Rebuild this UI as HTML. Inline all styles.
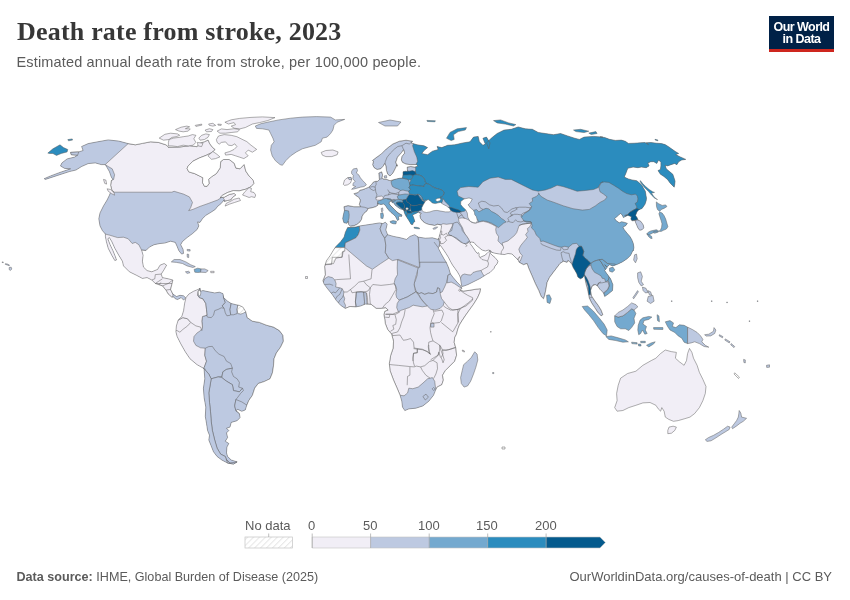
<!DOCTYPE html>
<html lang="en">
<head>
<meta charset="utf-8">
<title>Death rate from stroke, 2023</title>
<style>
html,body{margin:0;padding:0;background:#fff;}
body{width:850px;height:600px;position:relative;overflow:hidden;font-family:"Liberation Sans",sans-serif;}
#title{position:absolute;left:17px;top:15.4px;font-family:"Liberation Serif",serif;font-weight:bold;font-size:26px;line-height:34px;color:#373737;white-space:nowrap;letter-spacing:0.2px;}
#subtitle{position:absolute;left:16.5px;top:51.7px;font-size:14.5px;line-height:20px;color:#5b5b5b;white-space:nowrap;letter-spacing:0.16px;}
#logo{position:absolute;left:769px;top:16px;width:65px;height:36px;background:#002147;border-bottom:0;box-sizing:border-box;color:#fff;text-align:center;font-weight:bold;font-size:12.5px;line-height:12px;letter-spacing:-0.55px;}
#logo .bar{position:absolute;left:0;right:0;bottom:0;height:3px;background:#ce261e;}
#logo span{display:block;}
#map{position:absolute;left:0;top:0;width:850px;height:600px;}
#map path{stroke:#5e5e5e;stroke-width:0.5;stroke-linejoin:round;}
.lg{position:absolute;font-size:13px;color:#5b5b5b;line-height:14px;white-space:nowrap;}
#src{position:absolute;left:16.5px;top:568.8px;font-size:12.6px;line-height:16px;color:#5b5b5b;white-space:nowrap;}
#src b{font-weight:bold;}
#url{position:absolute;right:18px;top:569px;font-size:13px;line-height:16px;color:#5b5b5b;white-space:nowrap;}
</style>
</head>
<body>
<div id="title">Death rate from stroke, 2023</div>
<div id="subtitle">Estimated annual death rate from stroke, per 100,000 people.</div>
<div id="logo"><span style="margin-top:4.8px">Our World</span><span>in Data</span><div class="bar"></div></div>
<svg id="map" width="850" height="600" viewBox="0 0 850 600">
<defs>
<pattern id="hatch" patternUnits="userSpaceOnUse" width="4.2" height="4.2" patternTransform="rotate(45)">
<rect width="4.2" height="4.2" fill="#fff"/><line x1="0" y1="0" x2="0" y2="4.2" stroke="#e6e6e6" stroke-width="2"/>
</pattern>
</defs>
<g id="countries">
<defs><clipPath id="c0"><path d="M128.2,143.6L135.3,144.8L142.4,143.4L150.6,141.8L158.8,142.5L165.9,144.8L168.7,147.2L168.5,147.3L179.7,147.0L189.6,145.7L197.1,146.7L199.5,143.3L204.5,141.7L208.1,140.0L209.8,143.8L212.7,147.6L215.2,149.6L211.9,152.6L206.1,155.4L199.5,157.9L192.9,161.2L188.0,166.1L187.1,168.6L188.8,171.9L194.6,173.6L199.5,176.0L202.8,177.7L202.5,182.6L204.5,186.3L207.1,186.3L209.1,183.5L208.6,179.3L211.4,176.9L216.4,173.6L220.2,167.8L220.7,161.5L223.5,159.5L229.2,159.5L234.2,163.2L235.9,168.1L240.0,168.8L244.1,164.5L245.8,171.1L249.1,176.0L253.2,180.2L254.0,183.5L251.0,186.8L245.8,189.2L239.2,190.9L233.4,190.6L227.6,192.5L222.6,195.2L220.2,197.5L224.3,197.2L229.2,194.5L234.2,193.4L235.9,195.0L232.5,197.5L230.9,200.0L227.6,200.5L224.3,201.6L224.0,200.0L221.2,203.5L217.6,206.4L215.3,209.4L210.6,212.5L205.9,215.3L202.4,218.8L200.0,222.4L197.6,221.9L198.8,225.9L197.2,229.4L192.5,233.6L187.1,237.6L182.4,241.6L180.7,244.7L183.1,249.4L183.5,253.4L181.6,254.1L178.8,250.6L176.9,245.9L175.3,242.4L170.6,241.2L164.7,243.1L160.0,243.5L154.1,244.7L149.4,247.1L145.9,250.6L141.6,250.1L143.1,255.3L142.4,261.2L143.5,267.1L147.1,270.6L151.8,271.8L157.6,269.4L160.0,265.2L164.2,263.5L166.6,265.2L163.5,270.6L161.2,274.1L162.4,277.6L168.2,278.8L172.9,280.0L171.8,284.7L170.6,289.4L172.9,294.1L176.5,296.5L180.0,295.3L183.5,295.8L185.9,298.1L183.5,300.0L181.2,297.6L177.6,299.5L175.3,298.8L173.6,296.9L171.8,297.2L168.2,294.1L165.9,290.1L162.4,285.9L158.8,284.7L155.3,283.5L151.8,280.0L147.1,277.6L142.4,278.4L136.5,275.3L129.4,271.8L123.5,265.9L122.4,261.2L118.8,255.3L114.8,248.2L111.8,241.6L109.4,237.6L107.8,238.8L110.1,244.7L112.9,250.6L115.3,256.5L116.5,260.0L114.8,260.5L111.8,255.3L108.2,248.2L106.4,241.6L105.4,236.5L105.4,234.1L102.4,230.6L100.0,225.9L98.8,218.8L100.0,212.9L103.5,205.9L107.1,200.0L109.4,195.3L110.6,192.2L114.1,192.4L111.8,190.0L110.6,185.3L111.3,180.6L112.9,179.4L111.3,177.1L109.4,171.6L107.1,167.6L105.2,164.6L101.2,164.6L95.3,162.9L88.2,163.6L81.6,166.5L76.0,170.0L69.4,171.6L57.6,175.4L45.4,179.4L44.2,178.7L50.6,175.9L60.0,172.4L70.6,168.8L64.7,168.4L60.5,166.0L61.9,162.9L67.1,158.9L74.6,157.1L77.6,155.2L71.3,154.7L70.6,152.4L78.8,151.9L83.1,150.5L81.6,146.5L88.2,143.6L97.6,141.8L108.2,139.9L118.8,141.1Z"/></clipPath>
<clipPath id="c1"><path d="M186.0,297.6L188.8,294.1L193.5,291.3L198.2,289.4L200.1,288.2L200.6,291.3L202.9,290.6L208.8,291.8L214.7,292.9L219.4,292.2L222.9,293.6L223.6,297.6L227.6,301.2L231.2,303.5L235.9,304.7L239.4,305.4L242.9,307.1L245.8,311.8L247.2,317.6L252.4,321.2L259.4,322.4L266.5,325.2L273.5,327.1L279.4,330.6L282.9,335.3L283.4,341.2L280.6,347.1L276.4,352.9L274.0,358.8L273.5,365.9L272.4,372.9L270.0,378.8L264.1,381.6L258.2,383.5L254.7,388.2L252.4,395.3L248.8,400.5L246.5,405.9L245.3,409.9L241.8,411.3L237.8,409.4L235.9,410.6L239.4,413.6L240.1,417.6L237.1,420.7L231.2,422.4L230.0,427.1L226.5,428.2L228.8,430.6L226.5,432.9L227.6,437.6L225.3,441.2L228.8,443.5L226.9,447.1L226.5,452.9L227.6,456.5L231.2,460.0L237.1,461.9L233.5,464.0L227.6,463.1L221.8,460.0L217.1,456.5L213.5,451.8L211.2,445.9L208.8,440.0L209.5,435.3L207.6,430.6L206.5,423.5L205.3,416.5L205.8,407.1L204.1,397.6L203.4,388.2L204.8,378.8L204.1,369.4L203.4,368.2L197.1,364.7L190.0,358.8L185.3,351.8L180.6,343.5L177.1,336.5L175.9,331.8L176.4,325.9L178.2,320.0L181.8,316.5L183.6,310.6L184.6,303.5Z"/></clipPath>
<clipPath id="c2"><path d="M347.6,227.6L355.9,226.9L359.4,226.0L368.8,224.6L379.4,222.9L382.9,223.6L385.3,222.2L387.2,224.1L385.8,230.0L387.6,234.7L393.5,236.4L400.6,237.8L406.5,239.4L410.0,236.4L414.7,234.7L418.2,237.1L425.3,238.2L432.4,237.8L438.2,239.4L438.6,238.2L439.7,243.2L439.1,246.3L438.4,247.8L438.3,248.2L441.3,254.0L444.6,259.8L446.2,262.2L448.7,268.0L450.4,273.8L452.8,277.1L457.0,282.1L460.3,285.4L461.9,288.2L460.3,290.3L463.6,291.1L469.3,290.3L475.9,289.2L480.6,288.7L480.1,292.0L477.6,297.7L473.5,304.3L469.3,310.1L465.2,315.9L461.9,320.9L459.4,325.0L457.8,329.1L456.5,334.1L454.7,337.6L454.2,342.4L455.9,348.2L456.6,355.3L454.7,361.2L450.0,365.9L445.3,370.6L442.5,375.3L443.4,380.0L441.8,384.7L437.1,387.1L435.4,390.6L433.5,395.3L428.8,401.2L422.9,405.9L415.9,408.2L408.8,408.9L404.8,410.6L402.5,407.1L401.8,401.2L400.1,395.3L397.1,388.2L393.5,380.0L390.0,370.6L389.3,363.5L390.7,355.3L393.1,348.2L393.5,341.2L391.6,334.1L387.6,329.4L385.3,323.5L384.8,319.4L383.9,314.7L384.8,311.2L388.1,310.0L385.8,307.9L381.1,308.4L376.1,308.4L371.2,304.4L365.3,304.1L360.6,306.0L355.9,306.9L350.0,306.5L345.3,308.4L340.6,305.3L336.4,300.6L332.4,294.7L327.6,288.8L324.1,284.1L322.9,280.6L325.3,274.7L324.6,266.5L326.5,260.6L330.0,255.9L333.5,250.0L335.9,246.5L340.6,241.8L344.1,237.1L345.3,232.4Z"/></clipPath>
<clipPath id="c3"><path d="M353.9,225.7L350.4,226.3L348.6,224.5L348.0,221.5L346.8,223.3L343.9,222.7L342.7,218.6L343.5,214.4L344.5,210.3L343.9,206.7L348.0,205.6L353.9,206.7L360.4,206.7L359.3,204.4L360.4,200.2L358.7,197.3L355.7,195.5L353.9,193.7L358.1,192.5L359.9,190.2L362.8,189.6L365.8,188.4L368.7,187.2L371.7,184.3L373.5,181.9L375.8,181.3L377.6,181.3L379.4,179.5L378.8,173.0L381.7,171.8L382.6,174.8L382.1,177.8L382.9,178.9L387.1,179.5L390.0,180.7L394.2,179.5L399.5,178.3L402.5,178.0L403.0,174.8L403.0,171.8L405.4,171.2L407.4,171.6L407.4,170.1L407.2,167.1L410.7,166.5L414.9,167.1L417.8,166.2L416.7,164.5L410.7,164.7L406.0,164.1L402.5,162.4L401.3,160.0L401.9,156.4L404.7,153.1L403.6,149.8L401.4,152.8L397.5,157.2L395.8,162.2L397.3,166.3L397.1,164.7L395.4,168.3L393.0,173.0L390.0,176.0L387.7,174.2L386.5,170.7L385.9,165.9L384.7,163.6L382.9,166.5L380.6,168.9L377.0,169.5L374.1,167.7L372.6,164.7L373.5,161.2L372.4,160.5L375.5,158.1L381.3,153.9L386.2,149.0L392.8,144.0L399.4,141.2L406.0,140.2L412.6,141.2L411.2,142.9L417.1,144.8L424.1,145.8L427.6,147.6L424.1,150.5L421.8,153.5L427.6,154.7L432.4,151.2L438.2,149.5L437.1,146.5L441.8,147.6L447.6,145.3L454.7,144.8L462.9,142.9L470.0,141.8L473.5,137.1L478.2,136.4L479.4,141.8L482.9,145.3L485.3,144.1L482.9,138.2L486.5,137.1L490.0,142.9L488.8,148.8L486.5,142.9L491.2,138.2L497.1,133.5L504.1,130.0L511.2,129.3L518.2,126.9L525.3,128.8L532.4,129.3L538.2,132.4L545.3,133.5L553.5,134.7L560.6,133.5L567.6,135.9L574.7,138.2L579.4,139.4L584.1,137.1L593.5,136.4L602.9,137.1L600.0,136.9L604.7,137.5L609.5,139.3L615.4,140.4L621.3,140.1L625.4,141.3L628.4,143.4L634.3,143.2L640.2,142.8L645.0,142.5L648.5,144.6L646.2,142.8L650.9,142.5L656.8,143.2L661.5,143.6L665.1,144.6L668.6,146.7L672.2,149.3L675.7,151.7L678.7,153.5L675.7,154.6L679.3,156.4L685.8,159.4L681.7,160.0L678.7,161.7L676.9,164.7L674.6,163.5L671.0,164.7L667.5,165.9L665.1,165.3L666.3,168.8L669.8,171.8L672.8,174.2L674.0,177.7L675.1,181.3L674.7,184.8L674.2,187.2L670.0,182.9L667.5,179.5L663.9,176.5L660.4,174.2L658.0,170.6L660.4,169.4L660.9,165.9L660.9,162.3L658.6,160.0L656.8,163.5L653.8,161.7L650.9,161.7L647.9,162.9L649.1,165.9L646.2,167.7L641.4,167.1L637.9,167.7L633.1,167.1L627.8,168.3L626.0,173.0L624.3,177.1L628.4,178.9L632.0,179.9L636.7,180.7L639.6,183.0L641.8,185.3L645.3,191.2L646.5,198.2L646.2,200.7L645.0,204.3L642.1,208.4L638.8,209.8L637.3,211.4L636.7,212.5L635.6,215.5L637.3,217.9L637.9,219.9L640.9,221.4L643.3,225.0L643.8,227.9L642.1,229.7L639.7,230.3L637.9,227.9L636.7,225.0L635.6,222.6L635.0,220.5L632.0,220.8L630.8,219.1L631.4,216.7L629.6,216.1L627.9,215.3L625.5,216.4L623.4,217.6L622.2,214.9L620.5,213.5L618.4,215.3L616.6,216.9L614.6,218.6L616.3,220.8L619.3,222.8L621.7,221.7L624.6,222.4L627.4,223.3L625.7,225.7L622.9,227.1L624.3,229.7L626.9,233.0L629.8,236.3L631.7,239.4L633.3,243.4L633.9,247.5L633.3,251.0L632.9,250.6L630.6,255.3L627.1,258.8L622.4,261.9L617.6,264.2L612.9,265.9L609.4,264.7L607.1,267.1L604.7,264.7L607.1,267.5L604.7,270.6L607.1,274.1L610.6,278.8L612.9,284.7L612.5,290.6L608.2,294.1L604.7,296.5L603.5,292.9L601.2,290.6L600.0,289.4L597.6,285.9L595.3,284.7L592.9,285.4L591.8,287.1L590.6,290.6L590.7,291.2L591.6,295.9L594.7,300.6L598.2,305.3L601.1,310.0L602.9,314.7L601.1,315.9L597.8,312.4L594.7,307.6L591.6,302.9L589.3,298.2L588.4,293.5L587.5,289.4L585.9,283.5L585.0,278.8L584.4,274.9L582.7,277.7L580.3,278.8L577.9,277.1L576.7,273.5L575.0,270.6L573.2,267.6L572.0,264.6L570.8,262.9L569.6,261.7L567.9,260.5L567.1,262.4L563.5,261.2L560.0,263.5L556.5,268.2L552.9,272.9L549.4,277.6L547.1,282.4L545.9,289.4L544.7,295.3L543.5,298.8L541.2,296.5L538.8,290.6L535.3,283.5L531.8,275.3L528.7,268.2L527.1,263.5L523.5,264.7L519.3,262.4L517.6,258.8L520.0,256.5L518.0,259.8L515.0,257.0L512.0,254.0L508.0,253.5L504.5,254.5L501.0,254.2L498.0,253.8L494.0,253.0L491.0,252.0L488.5,250.0L485.5,251.0L482.0,250.0L479.0,247.5L476.0,245.0L474.0,242.5L471.5,242.0L470.0,242.5L470.0,243.5L472.0,246.0L474.0,249.0L476.0,252.0L477.5,253.5L478.0,252.5L479.2,253.5L479.0,256.0L480.0,257.5L482.0,256.5L484.5,255.5L487.0,253.5L489.0,251.5L490.0,250.8L490.5,253.5L492.5,255.5L495.0,257.5L498.0,261.2L497.0,264.0L495.0,266.0L494.0,268.5L492.0,270.5L490.0,272.5L487.0,274.0L484.0,276.0L480.0,278.5L476.0,280.5L472.0,282.5L468.0,284.5L464.0,286.0L461.8,286.5L461.0,282.0L460.5,278.0L459.5,275.5L457.5,272.0L455.0,268.5L452.5,265.0L450.5,261.5L448.5,257.5L446.0,253.5L443.0,249.0L440.5,245.5L439.3,246.3L439.8,243.2L438.9,238.4L439.3,236.1L440.1,233.3L440.8,230.5L441.3,227.6L441.5,225.9L440.6,224.9L437.7,224.3L434.7,225.5L431.7,224.9L428.2,224.3L425.2,223.1L422.9,221.4L420.5,218.4L419.9,215.4L421.1,213.1L419.3,213.1L418.7,211.9L416.0,213.4L414.0,214.3L412.5,215.1L413.4,217.0L414.3,219.6L414.8,221.7L413.4,222.5L412.8,224.6L411.0,224.3L409.9,222.2L408.4,219.8L406.9,217.5L405.4,215.1L404.5,213.1L403.9,210.7L404.2,208.9L404.0,210.5L403.0,209.5L400.5,209.0L397.5,207.0L395.0,205.0L394.0,203.0L392.0,202.5L391.5,200.8L390.0,201.5L389.0,203.0L390.0,205.0L392.0,207.0L394.5,209.5L397.0,212.0L400.0,214.0L402.0,215.0L401.5,216.5L399.5,216.0L398.5,217.5L399.0,219.5L397.5,220.5L396.5,218.5L395.5,216.5L393.5,214.5L391.0,212.5L389.0,210.5L387.0,208.0L385.5,205.5L383.5,204.0L381.0,204.5L379.0,204.0L377.5,203.0L378.2,205.0L375.8,206.7L371.7,207.9L368.1,208.5L367.0,210.9L364.0,213.3L362.2,216.2L361.6,219.2L359.9,222.1L356.9,224.5Z"/></clipPath></defs>
<g clip-path="url(#c0)">
<path d="M128.2,143.6L135.3,144.8L142.4,143.4L150.6,141.8L158.8,142.5L165.9,144.8L168.7,147.2L168.5,147.3L179.7,147.0L189.6,145.7L197.1,146.7L199.5,143.3L204.5,141.7L208.1,140.0L209.8,143.8L212.7,147.6L215.2,149.6L211.9,152.6L206.1,155.4L199.5,157.9L192.9,161.2L188.0,166.1L187.1,168.6L188.8,171.9L194.6,173.6L199.5,176.0L202.8,177.7L202.5,182.6L204.5,186.3L207.1,186.3L209.1,183.5L208.6,179.3L211.4,176.9L216.4,173.6L220.2,167.8L220.7,161.5L223.5,159.5L229.2,159.5L234.2,163.2L235.9,168.1L240.0,168.8L244.1,164.5L245.8,171.1L249.1,176.0L253.2,180.2L254.0,183.5L251.0,186.8L245.8,189.2L239.2,190.9L233.4,190.6L227.6,192.5L222.6,195.2L220.2,197.5L224.3,197.2L229.2,194.5L234.2,193.4L235.9,195.0L232.5,197.5L230.9,200.0L227.6,200.5L224.3,201.6L224.0,200.0L221.2,203.5L217.6,206.4L215.3,209.4L210.6,212.5L205.9,215.3L202.4,218.8L200.0,222.4L197.6,221.9L198.8,225.9L197.2,229.4L192.5,233.6L187.1,237.6L182.4,241.6L180.7,244.7L183.1,249.4L183.5,253.4L181.6,254.1L178.8,250.6L176.9,245.9L175.3,242.4L170.6,241.2L164.7,243.1L160.0,243.5L154.1,244.7L149.4,247.1L145.9,250.6L141.6,250.1L143.1,255.3L142.4,261.2L143.5,267.1L147.1,270.6L151.8,271.8L157.6,269.4L160.0,265.2L164.2,263.5L166.6,265.2L163.5,270.6L161.2,274.1L162.4,277.6L168.2,278.8L172.9,280.0L171.8,284.7L170.6,289.4L172.9,294.1L176.5,296.5L180.0,295.3L183.5,295.8L185.9,298.1L183.5,300.0L181.2,297.6L177.6,299.5L175.3,298.8L173.6,296.9L171.8,297.2L168.2,294.1L165.9,290.1L162.4,285.9L158.8,284.7L155.3,283.5L151.8,280.0L147.1,277.6L142.4,278.4L136.5,275.3L129.4,271.8L123.5,265.9L122.4,261.2L118.8,255.3L114.8,248.2L111.8,241.6L109.4,237.6L107.8,238.8L110.1,244.7L112.9,250.6L115.3,256.5L116.5,260.0L114.8,260.5L111.8,255.3L108.2,248.2L106.4,241.6L105.4,236.5L105.4,234.1L102.4,230.6L100.0,225.9L98.8,218.8L100.0,212.9L103.5,205.9L107.1,200.0L109.4,195.3L110.6,192.2L114.1,192.4L111.8,190.0L110.6,185.3L111.3,180.6L112.9,179.4L111.3,177.1L109.4,171.6L107.1,167.6L105.2,164.6L101.2,164.6L95.3,162.9L88.2,163.6L81.6,166.5L76.0,170.0L69.4,171.6L57.6,175.4L45.4,179.4L44.2,178.7L50.6,175.9L60.0,172.4L70.6,168.8L64.7,168.4L60.5,166.0L61.9,162.9L67.1,158.9L74.6,157.1L77.6,155.2L71.3,154.7L70.6,152.4L78.8,151.9L83.1,150.5L81.6,146.5L88.2,143.6L97.6,141.8L108.2,139.9L118.8,141.1Z" fill="#f1eef6" stroke="none"/>
<path d="M110.6,192.2L171.8,192.2L174.1,191.3L183.5,194.1L189.4,196.9L192.5,202.4L190.6,207.8L188.7,210.6L192.9,209.4L200.0,206.4L208.2,203.5L217.6,200.0L222.4,196.9L224.5,199.8L230.6,212.9L230.6,257.6L103.5,257.6L94.1,215.3L105.9,194.1Z" fill="#bdc9e1"/>
<path d="M128.2,143.6L105.2,164.6L108.2,166.5L112.2,168.8L114.6,174.7L113.6,179.4L90.6,187.6L34.1,185.3L34.1,133.5L128.2,133.5Z" fill="#bdc9e1"/>
<path d="M105.4,234.1L110.1,235.3L117.6,237.6L123.5,237.2L128.2,238.8L132.2,243.5L135.3,242.4L138.8,244.7L141.6,250.1L150.6,250.6L174.1,260.0L174.1,283.5L138.8,283.5L98.8,257.6L101.2,234.1Z" fill="#f1eef6"/>
<path d="M172.9,294.1L173.6,290.6L188.2,292.9L188.2,302.4L172.9,302.4Z" fill="#bdc9e1"/>
<path d="M151.8,280.0L154.8,278.8L155.3,274.6L161.2,274.1" fill="none"/>
<path d="M155.3,283.5L158.8,281.2L162.4,278.8" fill="none"/>
<path d="M158.8,284.7L161.2,282.4" fill="none"/>
<path d="M162.4,285.9L168.2,283.5L172.9,280.0" fill="none"/>
<path d="M165.9,290.1L170.6,289.4" fill="none"/>
</g>
<path d="M128.2,143.6L135.3,144.8L142.4,143.4L150.6,141.8L158.8,142.5L165.9,144.8L168.7,147.2L168.5,147.3L179.7,147.0L189.6,145.7L197.1,146.7L199.5,143.3L204.5,141.7L208.1,140.0L209.8,143.8L212.7,147.6L215.2,149.6L211.9,152.6L206.1,155.4L199.5,157.9L192.9,161.2L188.0,166.1L187.1,168.6L188.8,171.9L194.6,173.6L199.5,176.0L202.8,177.7L202.5,182.6L204.5,186.3L207.1,186.3L209.1,183.5L208.6,179.3L211.4,176.9L216.4,173.6L220.2,167.8L220.7,161.5L223.5,159.5L229.2,159.5L234.2,163.2L235.9,168.1L240.0,168.8L244.1,164.5L245.8,171.1L249.1,176.0L253.2,180.2L254.0,183.5L251.0,186.8L245.8,189.2L239.2,190.9L233.4,190.6L227.6,192.5L222.6,195.2L220.2,197.5L224.3,197.2L229.2,194.5L234.2,193.4L235.9,195.0L232.5,197.5L230.9,200.0L227.6,200.5L224.3,201.6L224.0,200.0L221.2,203.5L217.6,206.4L215.3,209.4L210.6,212.5L205.9,215.3L202.4,218.8L200.0,222.4L197.6,221.9L198.8,225.9L197.2,229.4L192.5,233.6L187.1,237.6L182.4,241.6L180.7,244.7L183.1,249.4L183.5,253.4L181.6,254.1L178.8,250.6L176.9,245.9L175.3,242.4L170.6,241.2L164.7,243.1L160.0,243.5L154.1,244.7L149.4,247.1L145.9,250.6L141.6,250.1L143.1,255.3L142.4,261.2L143.5,267.1L147.1,270.6L151.8,271.8L157.6,269.4L160.0,265.2L164.2,263.5L166.6,265.2L163.5,270.6L161.2,274.1L162.4,277.6L168.2,278.8L172.9,280.0L171.8,284.7L170.6,289.4L172.9,294.1L176.5,296.5L180.0,295.3L183.5,295.8L185.9,298.1L183.5,300.0L181.2,297.6L177.6,299.5L175.3,298.8L173.6,296.9L171.8,297.2L168.2,294.1L165.9,290.1L162.4,285.9L158.8,284.7L155.3,283.5L151.8,280.0L147.1,277.6L142.4,278.4L136.5,275.3L129.4,271.8L123.5,265.9L122.4,261.2L118.8,255.3L114.8,248.2L111.8,241.6L109.4,237.6L107.8,238.8L110.1,244.7L112.9,250.6L115.3,256.5L116.5,260.0L114.8,260.5L111.8,255.3L108.2,248.2L106.4,241.6L105.4,236.5L105.4,234.1L102.4,230.6L100.0,225.9L98.8,218.8L100.0,212.9L103.5,205.9L107.1,200.0L109.4,195.3L110.6,192.2L114.1,192.4L111.8,190.0L110.6,185.3L111.3,180.6L112.9,179.4L111.3,177.1L109.4,171.6L107.1,167.6L105.2,164.6L101.2,164.6L95.3,162.9L88.2,163.6L81.6,166.5L76.0,170.0L69.4,171.6L57.6,175.4L45.4,179.4L44.2,178.7L50.6,175.9L60.0,172.4L70.6,168.8L64.7,168.4L60.5,166.0L61.9,162.9L67.1,158.9L74.6,157.1L77.6,155.2L71.3,154.7L70.6,152.4L78.8,151.9L83.1,150.5L81.6,146.5L88.2,143.6L97.6,141.8L108.2,139.9L118.8,141.1Z" fill="none"/>
<g clip-path="url(#c1)">
<path d="M186.0,297.6L188.8,294.1L193.5,291.3L198.2,289.4L200.1,288.2L200.6,291.3L202.9,290.6L208.8,291.8L214.7,292.9L219.4,292.2L222.9,293.6L223.6,297.6L227.6,301.2L231.2,303.5L235.9,304.7L239.4,305.4L242.9,307.1L245.8,311.8L247.2,317.6L252.4,321.2L259.4,322.4L266.5,325.2L273.5,327.1L279.4,330.6L282.9,335.3L283.4,341.2L280.6,347.1L276.4,352.9L274.0,358.8L273.5,365.9L272.4,372.9L270.0,378.8L264.1,381.6L258.2,383.5L254.7,388.2L252.4,395.3L248.8,400.5L246.5,405.9L245.3,409.9L241.8,411.3L237.8,409.4L235.9,410.6L239.4,413.6L240.1,417.6L237.1,420.7L231.2,422.4L230.0,427.1L226.5,428.2L228.8,430.6L226.5,432.9L227.6,437.6L225.3,441.2L228.8,443.5L226.9,447.1L226.5,452.9L227.6,456.5L231.2,460.0L237.1,461.9L233.5,464.0L227.6,463.1L221.8,460.0L217.1,456.5L213.5,451.8L211.2,445.9L208.8,440.0L209.5,435.3L207.6,430.6L206.5,423.5L205.3,416.5L205.8,407.1L204.1,397.6L203.4,388.2L204.8,378.8L204.1,369.4L203.4,368.2L197.1,364.7L190.0,358.8L185.3,351.8L180.6,343.5L177.1,336.5L175.9,331.8L176.4,325.9L178.2,320.0L181.8,316.5L183.6,310.6L184.6,303.5Z" fill="#bdc9e1" stroke="none"/>
<path d="M200.1,288.2L198.2,291.8L197.8,295.3L199.4,297.6L202.9,298.8L205.8,303.5L206.5,309.4L207.2,315.3L206.5,315.3L202.5,316.5L201.8,321.2L202.5,327.1L200.6,330.6L197.1,332.9L194.0,336.5L193.5,341.2L195.9,345.4L200.6,347.8L205.3,348.2L204.8,355.3L206.5,361.2L204.8,365.9L203.4,368.9L188.8,374.1L165.3,350.6L165.3,303.5L184.1,287.1Z" fill="#f1eef6"/>
<path d="M178.2,320.0L182.9,317.6L187.6,318.8L190.7,322.4L187.6,325.9L182.9,329.4L179.9,332.2L177.1,330.6L165.3,330.6L165.3,320.0Z" fill="#f1eef6"/>
<path d="M200.1,288.2L198.2,291.8L197.8,295.3L199.4,297.6L202.9,298.8L205.8,303.5L206.5,309.4L207.2,315.3L206.5,315.3L202.5,316.5L201.8,321.2L202.5,327.1L201.8,330.6L200.6,327.1L195.9,325.9L190.7,322.4L187.6,318.8L182.9,317.6L178.2,320.0L165.3,320.0L165.3,287.1Z" fill="#f1eef6"/>
<path d="M200.1,288.2L198.2,291.8L197.8,295.3L199.4,297.6L202.9,298.8L205.8,303.5L206.5,309.4L207.2,315.3L206.5,315.3L207.6,317.2L211.2,317.6L213.5,315.3L214.7,310.6L218.2,309.4L221.3,307.8L224.1,308.2L222.2,305.9L225.3,302.4L223.6,297.6L223.6,287.1L200.1,284.7Z" fill="#bdc9e1"/>
<path d="M223.6,297.6L225.3,302.4L222.2,305.9L224.1,308.2L225.3,312.9L226.9,315.8L230.0,315.3L230.7,314.8L230.0,309.4L231.2,303.5L231.2,294.1L223.6,294.1Z" fill="#bdc9e1"/>
<path d="M231.2,303.5L230.0,309.4L230.7,314.8L233.5,314.8L237.1,313.6L237.1,309.4L237.8,305.2L237.8,298.8L231.2,298.8Z" fill="#bdc9e1"/>
<path d="M237.8,305.2L240.6,303.5L247.6,305.9L247.6,312.5L245.8,311.8L242.9,313.4L240.6,314.1L237.8,313.6L237.1,309.4Z" fill="url(#hatch)"/>
<path d="M205.3,348.2L208.8,346.6L212.4,346.4L215.2,350.6L218.9,354.1L224.1,356.5L226.5,361.2L230.7,363.5L232.4,368.2L226.5,369.4L222.9,371.8L221.8,376.5L218.2,376.9L211.2,378.8L208.8,374.1L205.8,370.6L204.1,367.5L204.8,365.9L206.5,361.2L204.8,355.3Z" fill="#bdc9e1"/>
<path d="M221.8,377.6L222.9,371.8L226.5,369.4L232.4,368.2L231.6,371.8L233.5,376.5L237.1,378.8L239.4,382.4L238.7,387.1L242.5,388.2L239.4,391.8L233.5,390.6L232.4,384.7L226.5,381.2Z" fill="#bdc9e1"/>
<path d="M211.2,378.8L218.2,376.9L221.8,377.6L226.5,381.2L232.4,384.7L233.5,390.6L239.4,391.8L242.5,388.2L243.4,390.6L240.6,393.4L237.8,397.2L235.9,399.5L234.7,405.9L235.9,410.6L242.9,416.5L242.9,463.5L230.0,463.1L226.5,460.0L225.3,456.5L220.6,454.1L217.1,448.2L214.7,440.0L212.4,430.6L211.2,421.2L210.5,411.8L209.5,402.4L208.8,392.9L210.0,385.9Z" fill="#bdc9e1"/>
<path d="M211.2,378.8L210.0,385.9L208.8,392.9L209.5,402.4L210.5,411.8L211.2,421.2L212.4,430.6L214.7,440.0L217.1,448.2L220.6,454.1L225.3,456.5L226.5,460.0L230.0,463.1L224.1,468.2L200.6,454.1L198.2,383.5L200.6,369.4L203.4,368.7L205.8,370.6L208.8,374.1L211.2,378.8Z" fill="#bdc9e1"/>
<path d="M235.9,399.5L241.8,401.9L246.9,405.2L252.4,407.1L247.6,416.5L235.9,410.6L234.7,405.9Z" fill="#bdc9e1"/>
</g>
<path d="M186.0,297.6L188.8,294.1L193.5,291.3L198.2,289.4L200.1,288.2L200.6,291.3L202.9,290.6L208.8,291.8L214.7,292.9L219.4,292.2L222.9,293.6L223.6,297.6L227.6,301.2L231.2,303.5L235.9,304.7L239.4,305.4L242.9,307.1L245.8,311.8L247.2,317.6L252.4,321.2L259.4,322.4L266.5,325.2L273.5,327.1L279.4,330.6L282.9,335.3L283.4,341.2L280.6,347.1L276.4,352.9L274.0,358.8L273.5,365.9L272.4,372.9L270.0,378.8L264.1,381.6L258.2,383.5L254.7,388.2L252.4,395.3L248.8,400.5L246.5,405.9L245.3,409.9L241.8,411.3L237.8,409.4L235.9,410.6L239.4,413.6L240.1,417.6L237.1,420.7L231.2,422.4L230.0,427.1L226.5,428.2L228.8,430.6L226.5,432.9L227.6,437.6L225.3,441.2L228.8,443.5L226.9,447.1L226.5,452.9L227.6,456.5L231.2,460.0L237.1,461.9L233.5,464.0L227.6,463.1L221.8,460.0L217.1,456.5L213.5,451.8L211.2,445.9L208.8,440.0L209.5,435.3L207.6,430.6L206.5,423.5L205.3,416.5L205.8,407.1L204.1,397.6L203.4,388.2L204.8,378.8L204.1,369.4L203.4,368.2L197.1,364.7L190.0,358.8L185.3,351.8L180.6,343.5L177.1,336.5L175.9,331.8L176.4,325.9L178.2,320.0L181.8,316.5L183.6,310.6L184.6,303.5Z" fill="none"/>
<g clip-path="url(#c2)">
<path d="M347.6,227.6L355.9,226.9L359.4,226.0L368.8,224.6L379.4,222.9L382.9,223.6L385.3,222.2L387.2,224.1L385.8,230.0L387.6,234.7L393.5,236.4L400.6,237.8L406.5,239.4L410.0,236.4L414.7,234.7L418.2,237.1L425.3,238.2L432.4,237.8L438.2,239.4L438.6,238.2L439.7,243.2L439.1,246.3L438.4,247.8L438.3,248.2L441.3,254.0L444.6,259.8L446.2,262.2L448.7,268.0L450.4,273.8L452.8,277.1L457.0,282.1L460.3,285.4L461.9,288.2L460.3,290.3L463.6,291.1L469.3,290.3L475.9,289.2L480.6,288.7L480.1,292.0L477.6,297.7L473.5,304.3L469.3,310.1L465.2,315.9L461.9,320.9L459.4,325.0L457.8,329.1L456.5,334.1L454.7,337.6L454.2,342.4L455.9,348.2L456.6,355.3L454.7,361.2L450.0,365.9L445.3,370.6L442.5,375.3L443.4,380.0L441.8,384.7L437.1,387.1L435.4,390.6L433.5,395.3L428.8,401.2L422.9,405.9L415.9,408.2L408.8,408.9L404.8,410.6L402.5,407.1L401.8,401.2L400.1,395.3L397.1,388.2L393.5,380.0L390.0,370.6L389.3,363.5L390.7,355.3L393.1,348.2L393.5,341.2L391.6,334.1L387.6,329.4L385.3,323.5L384.8,319.4L383.9,314.7L384.8,311.2L388.1,310.0L385.8,307.9L381.1,308.4L376.1,308.4L371.2,304.4L365.3,304.1L360.6,306.0L355.9,306.9L350.0,306.5L345.3,308.4L340.6,305.3L336.4,300.6L332.4,294.7L327.6,288.8L324.1,284.1L322.9,280.6L325.3,274.7L324.6,266.5L326.5,260.6L330.0,255.9L333.5,250.0L335.9,246.5L340.6,241.8L344.1,237.1L345.3,232.4Z" fill="#f1eef6" stroke="none"/>
<path d="M347.6,227.6L355.9,226.9L359.4,226.0L359.9,230.0L358.2,234.7L355.9,237.8L345.3,242.9L344.8,247.6L331.2,247.6L331.2,224.1Z" fill="#2b8cbe"/>
<path d="M334.7,247.6L344.8,247.6L344.8,251.2L342.5,251.9L341.8,257.1L335.9,258.2L333.5,263.6L321.8,264.6L321.8,247.6Z" fill="url(#hatch)"/>
<path d="M359.4,219.4L380.6,219.4L381.8,224.1L380.1,228.8L381.8,233.5L384.8,238.2L385.8,245.3L385.3,252.4L388.8,258.2L380.6,263.6L372.4,269.3L366.5,266.0L344.8,247.6L345.3,242.9L355.9,237.8L358.2,234.7L359.9,230.0L359.4,226.0Z" fill="#bdc9e1"/>
<path d="M380.6,219.4L390.0,219.4L388.8,234.7L387.6,234.7L384.8,238.2L381.8,233.5L380.1,228.8L381.8,224.1Z" fill="#bdc9e1"/>
<path d="M387.6,234.7L388.8,231.2L420.6,231.2L418.2,237.1L418.7,242.9L419.4,262.9L419.4,267.6L398.2,259.4L392.4,260.6L388.8,258.2L385.3,252.4L385.8,245.3L384.8,238.2Z" fill="#bdc9e1"/>
<path d="M418.2,237.1L417.1,233.5L448.8,233.5L453.5,262.9L446.9,262.9L419.4,262.9L418.7,242.9Z" fill="#bdc9e1"/>
<path d="M419.8,262.2L446.2,262.2L454.5,268.0L454.5,274.6L450.4,273.8L447.9,275.4L446.7,282.1L444.6,287.0L442.1,292.0L439.6,292.8L439.6,288.7L437.6,287.8L436.7,292.0L433.0,293.6L428.1,293.1L424.8,294.4L421.5,292.8L419.0,293.6L416.5,292.0L414.9,287.8L414.0,283.7L415.7,279.6L417.3,274.6L417.3,268.0L419.8,267.2Z" fill="#bdc9e1"/>
<path d="M447.9,275.4L450.4,273.8L454.5,273.0L466.0,286.2L461.9,288.2L459.4,287.0L454.5,283.7L451.2,282.1L447.1,282.9Z" fill="#bdc9e1"/>
<path d="M416.5,292.0L419.0,293.6L421.5,292.8L424.8,294.4L428.1,293.1L433.0,293.6L436.7,292.0L437.6,287.8L439.6,288.7L440.4,294.4L441.6,298.6L444.2,301.9L443.3,305.2L440.0,308.5L435.0,310.1L430.9,309.3L427.6,306.3L424.3,302.7L421.0,298.6L418.5,294.4Z" fill="#bdc9e1"/>
<path d="M397.5,259.8L418.2,268.0L416.5,274.6L414.9,280.4L414.1,284.5L414.9,288.7L415.7,292.0L411.6,294.4L407.5,296.9L403.3,298.6L399.2,300.2L396.7,297.7L395.9,294.4L396.7,289.5L395.6,286.2L394.2,282.9L395.1,278.8L397.5,274.6L397.2,268.0Z" fill="#bdc9e1"/>
<path d="M399.2,300.2L403.3,298.6L407.5,296.9L411.6,294.4L415.7,292.0L418.2,294.4L420.7,298.6L424.0,302.7L427.3,306.0L422.3,306.8L417.4,306.0L413.2,305.2L409.1,307.6L405.0,309.0L401.7,310.1L398.4,311.8L396.7,307.6L397.2,303.5Z" fill="#bdc9e1"/>
<path d="M323.3,282.1L324.6,278.8L328.2,276.6L332.3,277.6L334.8,279.9L336.1,283.7L335.6,287.0L339.8,287.8L342.2,288.7L343.9,292.0L343.4,295.3L344.7,298.6L343.9,301.9L345.5,305.2L345.0,308.5L341.4,312.6L318.3,292.8L318.3,281.2Z" fill="#bdc9e1"/>
<path d="M356.3,292.0L361.2,291.5L363.7,292.0L364.2,296.9L364.5,301.9L364.2,305.2L363.7,310.9L356.3,310.9L355.4,301.9L355.9,296.9Z" fill="#bdc9e1"/>
<path d="M363.7,292.0L366.2,292.8L366.5,297.7L367.0,303.5L367.2,309.3L364.2,309.3L364.5,301.9L364.2,296.9Z" fill="#bdc9e1"/>
<path d="M400.1,395.3L404.1,395.8L407.6,392.9L408.8,388.2L412.8,388.7L418.2,387.1L422.9,383.1L427.6,378.8L432.4,377.6L434.7,381.2L435.4,387.1L436.4,390.6L442.9,395.3L428.8,414.1L400.6,414.1L395.9,397.6Z" fill="#bdc9e1"/>
<path d="M422.9,396.5L426.0,394.1L428.4,397.2L425.3,400.0Z" fill="#bdc9e1"/>
<path d="M432.1,388.9L433.5,387.5L435.2,388.9L433.8,390.6Z" fill="#bdc9e1"/>
<path d="M430.7,323.5L434.0,323.5L434.0,327.1L430.7,327.1Z" fill="#bdc9e1"/>
<path d="M324.9,264.7L331.5,264.4L332.3,257.3L342.2,257.3L343.1,251.5L343.9,250.7" fill="none"/>
<path d="M348.8,254.5L350.5,278.8L336.5,279.6L334.8,279.9" fill="none"/>
<path d="M372.0,269.7L371.1,278.8L363.7,281.2L358.8,282.1L354.6,286.2L350.5,289.5L347.2,292.0L343.9,292.0" fill="none"/>
<path d="M363.7,281.2L366.2,284.5L370.3,287.8L367.8,291.1L363.7,292.0L356.3,292.0L352.1,292.8L350.5,289.5" fill="none"/>
<path d="M370.3,287.8L372.8,284.5L381.0,285.4L389.3,284.5L394.2,283.7L395.6,286.2" fill="none"/>
<path d="M370.3,287.8L369.5,294.4L370.3,304.3" fill="none"/>
<path d="M395.6,286.2L395.9,289.5L392.6,295.3L389.3,301.0L385.2,304.3L382.7,307.6" fill="none"/>
<path d="M356.3,292.0L355.9,296.9L355.4,301.9L356.3,306.3" fill="none"/>
<path d="M366.5,292.8L367.5,297.7L367.8,304.3" fill="none"/>
<path d="M386.0,314.2L392.6,314.2L398.4,311.8" fill="none"/>
<path d="M324.6,284.5L329.9,284.2L333.2,285.4" fill="none"/>
<path d="M330.7,293.6L333.2,292.0L335.6,292.8L339.8,287.8" fill="none"/>
<path d="M334.8,300.2L337.3,296.1L339.8,294.4L342.2,288.7" fill="none"/>
<path d="M338.1,303.5L339.8,300.2L342.2,297.7L343.4,295.3" fill="none"/>
<path d="M385.1,314.3L390.4,314.3L395.1,314.6L399.9,311.9" fill="none"/>
<path d="M385.1,317.2L389.2,317.5L389.8,314.9" fill="none"/>
<path d="M395.1,315.1L396.3,319.6L395.7,324.3L392.8,325.5L393.9,329.1L390.4,331.4" fill="none"/>
<path d="M405.2,309.5L404.0,316.0L401.6,322.0L399.9,327.9L397.5,332.0L392.8,333.2L391.0,334.4" fill="none"/>
<path d="M433.0,309.5L434.2,313.7L431.8,319.6L430.6,324.3L430.0,327.9L430.6,332.6L431.8,337.3L433.0,340.9L428.8,342.1L428.3,346.8L428.8,351.5L430.6,354.5L427.1,351.5L422.3,349.2L417.6,348.6L414.1,348.0L413.5,342.1L410.5,338.5L407.0,339.7L403.4,340.3L401.0,336.7L399.9,335.0L392.8,335.6L391.6,333.8" fill="none"/>
<path d="M434.2,311.3L441.9,310.1L443.6,313.7L441.3,320.8L439.5,322.5L434.2,323.1L431.8,322.5" fill="none"/>
<path d="M443.6,306.0L446.0,307.8L450.7,310.1L457.8,309.5L460.2,308.9L464.9,305.4L469.7,301.8L472.6,298.9" fill="none"/>
<path d="M460.2,308.9L457.8,313.7L457.8,323.1L453.1,331.4" fill="none"/>
<path d="M441.3,322.5L450.7,330.2L453.1,332.0" fill="none"/>
<path d="M433.0,340.9L437.7,343.8L440.1,345.6L442.5,349.8L446.0,350.4L450.7,349.2L456.1,347.4" fill="none"/>
<path d="M440.1,345.6L439.5,350.4L438.3,355.1L434.2,357.5L430.6,359.8" fill="none"/>
<path d="M442.5,349.8L443.0,353.9L441.3,357.5" fill="none"/>
<path d="M417.6,348.6L417.0,352.7L413.5,353.3L412.9,361.0" fill="none"/>
<path d="M389.2,364.5L398.7,365.4L409.3,366.5L414.1,366.9L416.4,366.1L420.6,366.9L424.7,365.7L429.4,361.6L433.0,360.4L437.1,362.8L437.5,368.7L435.9,374.0L433.6,378.5" fill="none"/>
<path d="M413.5,348.6L417.0,349.1L417.6,352.7L413.5,353.3L412.9,358.0L413.5,362.8L414.6,366.3" fill="none"/>
<path d="M409.9,366.9L409.9,375.2L407.5,376.4L407.2,385.2" fill="none"/>
<path d="M420.6,366.9L422.3,370.4L425.9,375.2L430.0,378.1" fill="none"/>
<path d="M417.0,349.1L422.3,349.7L427.1,351.5L430.0,353.9L429.4,351.5L428.8,347.4L428.8,345.0" fill="none"/>
<path d="M439.5,345.0L440.7,349.7L443.0,355.7L444.2,359.8L443.0,362.8L441.9,359.2L440.1,356.2L438.9,352.1L437.7,355.7L433.0,360.4" fill="none"/>
<path d="M442.5,350.3L448.4,349.7L455.5,347.4" fill="none"/>
<path d="M460.3,290.3L463.6,292.8L467.7,295.3L472.6,297.7L472.6,300.2L466.0,306.0L461.9,307.6L457.8,309.3L452.8,310.1L448.7,307.6L444.2,301.9" fill="none"/>
<path d="M457.8,309.3L458.1,315.9L458.6,322.5" fill="none"/>
<path d="M460.3,288.2L458.6,290.3L460.3,292.0" fill="none"/>
<path d="M434.1,242.1L436.2,244.9L438.3,247.8" fill="none"/>
</g>
<path d="M347.6,227.6L355.9,226.9L359.4,226.0L368.8,224.6L379.4,222.9L382.9,223.6L385.3,222.2L387.2,224.1L385.8,230.0L387.6,234.7L393.5,236.4L400.6,237.8L406.5,239.4L410.0,236.4L414.7,234.7L418.2,237.1L425.3,238.2L432.4,237.8L438.2,239.4L438.6,238.2L439.7,243.2L439.1,246.3L438.4,247.8L438.3,248.2L441.3,254.0L444.6,259.8L446.2,262.2L448.7,268.0L450.4,273.8L452.8,277.1L457.0,282.1L460.3,285.4L461.9,288.2L460.3,290.3L463.6,291.1L469.3,290.3L475.9,289.2L480.6,288.7L480.1,292.0L477.6,297.7L473.5,304.3L469.3,310.1L465.2,315.9L461.9,320.9L459.4,325.0L457.8,329.1L456.5,334.1L454.7,337.6L454.2,342.4L455.9,348.2L456.6,355.3L454.7,361.2L450.0,365.9L445.3,370.6L442.5,375.3L443.4,380.0L441.8,384.7L437.1,387.1L435.4,390.6L433.5,395.3L428.8,401.2L422.9,405.9L415.9,408.2L408.8,408.9L404.8,410.6L402.5,407.1L401.8,401.2L400.1,395.3L397.1,388.2L393.5,380.0L390.0,370.6L389.3,363.5L390.7,355.3L393.1,348.2L393.5,341.2L391.6,334.1L387.6,329.4L385.3,323.5L384.8,319.4L383.9,314.7L384.8,311.2L388.1,310.0L385.8,307.9L381.1,308.4L376.1,308.4L371.2,304.4L365.3,304.1L360.6,306.0L355.9,306.9L350.0,306.5L345.3,308.4L340.6,305.3L336.4,300.6L332.4,294.7L327.6,288.8L324.1,284.1L322.9,280.6L325.3,274.7L324.6,266.5L326.5,260.6L330.0,255.9L333.5,250.0L335.9,246.5L340.6,241.8L344.1,237.1L345.3,232.4Z" fill="none"/>
<g clip-path="url(#c3)">
<path d="M353.9,225.7L350.4,226.3L348.6,224.5L348.0,221.5L346.8,223.3L343.9,222.7L342.7,218.6L343.5,214.4L344.5,210.3L343.9,206.7L348.0,205.6L353.9,206.7L360.4,206.7L359.3,204.4L360.4,200.2L358.7,197.3L355.7,195.5L353.9,193.7L358.1,192.5L359.9,190.2L362.8,189.6L365.8,188.4L368.7,187.2L371.7,184.3L373.5,181.9L375.8,181.3L377.6,181.3L379.4,179.5L378.8,173.0L381.7,171.8L382.6,174.8L382.1,177.8L382.9,178.9L387.1,179.5L390.0,180.7L394.2,179.5L399.5,178.3L402.5,178.0L403.0,174.8L403.0,171.8L405.4,171.2L407.4,171.6L407.4,170.1L407.2,167.1L410.7,166.5L414.9,167.1L417.8,166.2L416.7,164.5L410.7,164.7L406.0,164.1L402.5,162.4L401.3,160.0L401.9,156.4L404.7,153.1L403.6,149.8L401.4,152.8L397.5,157.2L395.8,162.2L397.3,166.3L397.1,164.7L395.4,168.3L393.0,173.0L390.0,176.0L387.7,174.2L386.5,170.7L385.9,165.9L384.7,163.6L382.9,166.5L380.6,168.9L377.0,169.5L374.1,167.7L372.6,164.7L373.5,161.2L372.4,160.5L375.5,158.1L381.3,153.9L386.2,149.0L392.8,144.0L399.4,141.2L406.0,140.2L412.6,141.2L411.2,142.9L417.1,144.8L424.1,145.8L427.6,147.6L424.1,150.5L421.8,153.5L427.6,154.7L432.4,151.2L438.2,149.5L437.1,146.5L441.8,147.6L447.6,145.3L454.7,144.8L462.9,142.9L470.0,141.8L473.5,137.1L478.2,136.4L479.4,141.8L482.9,145.3L485.3,144.1L482.9,138.2L486.5,137.1L490.0,142.9L488.8,148.8L486.5,142.9L491.2,138.2L497.1,133.5L504.1,130.0L511.2,129.3L518.2,126.9L525.3,128.8L532.4,129.3L538.2,132.4L545.3,133.5L553.5,134.7L560.6,133.5L567.6,135.9L574.7,138.2L579.4,139.4L584.1,137.1L593.5,136.4L602.9,137.1L600.0,136.9L604.7,137.5L609.5,139.3L615.4,140.4L621.3,140.1L625.4,141.3L628.4,143.4L634.3,143.2L640.2,142.8L645.0,142.5L648.5,144.6L646.2,142.8L650.9,142.5L656.8,143.2L661.5,143.6L665.1,144.6L668.6,146.7L672.2,149.3L675.7,151.7L678.7,153.5L675.7,154.6L679.3,156.4L685.8,159.4L681.7,160.0L678.7,161.7L676.9,164.7L674.6,163.5L671.0,164.7L667.5,165.9L665.1,165.3L666.3,168.8L669.8,171.8L672.8,174.2L674.0,177.7L675.1,181.3L674.7,184.8L674.2,187.2L670.0,182.9L667.5,179.5L663.9,176.5L660.4,174.2L658.0,170.6L660.4,169.4L660.9,165.9L660.9,162.3L658.6,160.0L656.8,163.5L653.8,161.7L650.9,161.7L647.9,162.9L649.1,165.9L646.2,167.7L641.4,167.1L637.9,167.7L633.1,167.1L627.8,168.3L626.0,173.0L624.3,177.1L628.4,178.9L632.0,179.9L636.7,180.7L639.6,183.0L641.8,185.3L645.3,191.2L646.5,198.2L646.2,200.7L645.0,204.3L642.1,208.4L638.8,209.8L637.3,211.4L636.7,212.5L635.6,215.5L637.3,217.9L637.9,219.9L640.9,221.4L643.3,225.0L643.8,227.9L642.1,229.7L639.7,230.3L637.9,227.9L636.7,225.0L635.6,222.6L635.0,220.5L632.0,220.8L630.8,219.1L631.4,216.7L629.6,216.1L627.9,215.3L625.5,216.4L623.4,217.6L622.2,214.9L620.5,213.5L618.4,215.3L616.6,216.9L614.6,218.6L616.3,220.8L619.3,222.8L621.7,221.7L624.6,222.4L627.4,223.3L625.7,225.7L622.9,227.1L624.3,229.7L626.9,233.0L629.8,236.3L631.7,239.4L633.3,243.4L633.9,247.5L633.3,251.0L632.9,250.6L630.6,255.3L627.1,258.8L622.4,261.9L617.6,264.2L612.9,265.9L609.4,264.7L607.1,267.1L604.7,264.7L607.1,267.5L604.7,270.6L607.1,274.1L610.6,278.8L612.9,284.7L612.5,290.6L608.2,294.1L604.7,296.5L603.5,292.9L601.2,290.6L600.0,289.4L597.6,285.9L595.3,284.7L592.9,285.4L591.8,287.1L590.6,290.6L590.7,291.2L591.6,295.9L594.7,300.6L598.2,305.3L601.1,310.0L602.9,314.7L601.1,315.9L597.8,312.4L594.7,307.6L591.6,302.9L589.3,298.2L588.4,293.5L587.5,289.4L585.9,283.5L585.0,278.8L584.4,274.9L582.7,277.7L580.3,278.8L577.9,277.1L576.7,273.5L575.0,270.6L573.2,267.6L572.0,264.6L570.8,262.9L569.6,261.7L567.9,260.5L567.1,262.4L563.5,261.2L560.0,263.5L556.5,268.2L552.9,272.9L549.4,277.6L547.1,282.4L545.9,289.4L544.7,295.3L543.5,298.8L541.2,296.5L538.8,290.6L535.3,283.5L531.8,275.3L528.7,268.2L527.1,263.5L523.5,264.7L519.3,262.4L517.6,258.8L520.0,256.5L518.0,259.8L515.0,257.0L512.0,254.0L508.0,253.5L504.5,254.5L501.0,254.2L498.0,253.8L494.0,253.0L491.0,252.0L488.5,250.0L485.5,251.0L482.0,250.0L479.0,247.5L476.0,245.0L474.0,242.5L471.5,242.0L470.0,242.5L470.0,243.5L472.0,246.0L474.0,249.0L476.0,252.0L477.5,253.5L478.0,252.5L479.2,253.5L479.0,256.0L480.0,257.5L482.0,256.5L484.5,255.5L487.0,253.5L489.0,251.5L490.0,250.8L490.5,253.5L492.5,255.5L495.0,257.5L498.0,261.2L497.0,264.0L495.0,266.0L494.0,268.5L492.0,270.5L490.0,272.5L487.0,274.0L484.0,276.0L480.0,278.5L476.0,280.5L472.0,282.5L468.0,284.5L464.0,286.0L461.8,286.5L461.0,282.0L460.5,278.0L459.5,275.5L457.5,272.0L455.0,268.5L452.5,265.0L450.5,261.5L448.5,257.5L446.0,253.5L443.0,249.0L440.5,245.5L439.3,246.3L439.8,243.2L438.9,238.4L439.3,236.1L440.1,233.3L440.8,230.5L441.3,227.6L441.5,225.9L440.6,224.9L437.7,224.3L434.7,225.5L431.7,224.9L428.2,224.3L425.2,223.1L422.9,221.4L420.5,218.4L419.9,215.4L421.1,213.1L419.3,213.1L418.7,211.9L416.0,213.4L414.0,214.3L412.5,215.1L413.4,217.0L414.3,219.6L414.8,221.7L413.4,222.5L412.8,224.6L411.0,224.3L409.9,222.2L408.4,219.8L406.9,217.5L405.4,215.1L404.5,213.1L403.9,210.7L404.2,208.9L404.0,210.5L403.0,209.5L400.5,209.0L397.5,207.0L395.0,205.0L394.0,203.0L392.0,202.5L391.5,200.8L390.0,201.5L389.0,203.0L390.0,205.0L392.0,207.0L394.5,209.5L397.0,212.0L400.0,214.0L402.0,215.0L401.5,216.5L399.5,216.0L398.5,217.5L399.0,219.5L397.5,220.5L396.5,218.5L395.5,216.5L393.5,214.5L391.0,212.5L389.0,210.5L387.0,208.0L385.5,205.5L383.5,204.0L381.0,204.5L379.0,204.0L377.5,203.0L378.2,205.0L375.8,206.7L371.7,207.9L368.1,208.5L367.0,210.9L364.0,213.3L362.2,216.2L361.6,219.2L359.9,222.1L356.9,224.5Z" fill="#bdc9e1" stroke="none"/>
<path d="M412.6,138.3L412.6,141.2L413.5,143.2L412.6,145.7L414.3,151.5L416.8,157.2L417.6,161.4L416.3,163.8L415.6,166.3L415.6,169.6L415.5,171.0L415.5,172.5L416.0,174.5L419.0,175.0L422.5,176.5L424.5,179.0L425.0,181.5L426.5,183.5L429.5,184.5L432.0,186.5L435.0,188.0L438.5,189.0L442.0,190.0L444.0,192.0L443.5,195.0L441.5,196.5L440.0,197.2L441.5,198.0L444.0,199.5L445.0,201.5L447.0,203.5L449.0,205.5L450.0,207.5L452.0,209.0L455.0,209.8L458.0,210.5L460.0,211.2L461.4,211.8L464.3,211.2L469.1,207.1L466.5,199.9L458.2,195.9L457.1,191.2L460.6,187.6L468.8,186.5L478.2,187.2L482.9,181.8L490.0,178.2L498.2,177.1L505.3,179.4L511.2,179.4L518.2,182.9L525.3,186.5L532.4,190.0L538.2,191.2L545.3,190.0L551.2,188.1L557.1,185.3L562.9,186.5L570.0,188.8L577.1,191.2L585.3,190.5L593.5,189.5L598.2,187.6L600.1,184.1L602.9,181.8L600.6,182.9L613.5,192.4L625.3,199.4L634.7,206.5L638.2,210.0L651.2,211.2L695.9,187.6L695.9,124.1L504.1,114.7L410.0,114.7Z" fill="#2b8cbe"/>
<path d="M538.1,192.9L541.2,196.5L547.1,200.0L554.1,202.4L563.5,205.9L572.9,208.7L582.4,210.1L589.4,209.4L595.3,205.9L600.0,202.4L604.7,200.0L607.1,196.9L603.5,194.1L600.0,191.8L598.8,187.1L601.2,182.8L604.2,181.9L608.9,182.4L613.6,185.2L618.4,188.2L622.6,191.3L626.8,193.6L631.5,194.8L635.5,194.1L637.4,196.0L637.9,198.8L637.4,201.9L635.1,203.5L636.7,206.6L636.7,208.5L634.4,209.6L630.4,212.0L627.3,214.8L624.7,215.3L641.2,238.8L641.2,274.1L607.1,274.1L612.8,265.8L607.5,263.5L605.1,261.7L602.2,259.3L599.2,259.9L596.3,260.5L593.3,261.7L590.9,263.5L588.0,260.5L585.0,258.1L582.7,255.2L583.8,251.6L582.7,248.7L581.5,246.3L579.1,246.3L576.7,243.3L572.6,243.9L568.5,247.2L564.9,246.3L561.4,247.2L559.0,246.9L553.7,245.1L547.8,242.8L543.0,241.0L540.7,241.6L539.8,238.5L536.3,235.0L534.5,230.8L531.5,227.9L532.1,225.5L530.9,222.0L526.8,222.2L523.8,221.0L522.7,219.0L520.9,216.6L522.7,215.4L525.0,213.1L528.0,211.3L530.4,209.5L531.5,206.6L529.2,203.6L532.7,201.2L532.1,198.3L536.3,196.5L539.2,193.6Z" fill="#74a9cf"/>
<path d="M344.5,210.3L348.6,210.9L349.2,214.4L349.0,218.0L348.0,221.5L346.8,224.5L342.1,224.5L341.5,214.4L343.3,209.7Z" fill="#74a9cf"/>
<path d="M377.5,201.5L379.5,200.5L382.0,199.5L385.0,198.5L388.0,198.5L391.0,199.0L391.5,200.8L390.0,201.5L389.0,203.0L390.0,205.0L392.0,207.0L394.5,209.5L397.0,212.0L400.0,214.0L404.0,215.0L403.0,221.0L395.0,222.0L385.0,208.0L381.0,205.0L378.0,204.5Z" fill="#74a9cf"/>
<path d="M375.8,197.9L378.2,196.4L381.7,196.1L383.5,197.6L382.3,199.6L379.4,200.2L376.4,200.0Z" fill="#f1eef6"/>
<path d="M391.0,181.5L393.0,180.0L396.5,178.5L401.5,177.8L404.0,178.5L407.0,179.0L408.5,180.0L409.5,183.0L410.0,185.5L409.0,187.5L410.5,189.5L408.5,191.2L406.0,190.8L403.0,190.0L400.5,190.5L398.0,189.0L395.0,188.0L392.5,186.5L391.5,184.0Z" fill="#74a9cf"/>
<path d="M401.5,177.8L401.2,176.0L402.5,175.0L404.0,174.5L407.0,174.5L410.0,174.2L413.5,175.0L412.5,177.5L411.0,179.5L408.5,180.0L407.0,179.0L404.0,178.5Z" fill="#2b8cbe"/>
<path d="M402.5,175.2L401.8,172.0L403.3,170.5L406.0,170.2L409.0,171.2L412.5,170.6L415.5,171.8L416.2,174.8L413.5,175.4L410.0,174.7L407.0,175.0L404.0,175.0Z" fill="#045a8d"/>
<path d="M413.5,175.0L416.0,174.5L419.0,175.0L422.5,176.5L424.5,179.0L425.0,181.5L426.5,183.5L424.5,184.5L424.0,186.5L420.0,186.0L416.0,185.5L412.5,185.0L410.0,185.5L409.5,183.0L410.5,181.0L411.0,179.5L412.5,177.5Z" fill="#2b8cbe"/>
<path d="M410.0,185.5L412.5,185.0L416.0,185.5L420.0,186.0L424.0,186.5L424.5,184.5L426.5,183.5L429.5,184.5L432.0,186.5L435.0,188.0L438.5,189.0L442.0,190.0L444.0,192.0L443.5,195.0L441.5,196.5L440.0,197.2L441.5,198.0L443.0,199.5L441.0,205.0L427.0,205.0L425.5,199.5L424.5,201.5L423.0,200.0L422.0,198.0L420.5,195.5L418.0,194.5L415.0,195.0L412.0,194.5L409.5,194.0L408.5,191.2L410.5,189.5L409.0,187.5Z" fill="#2b8cbe"/>
<path d="M417.5,194.2L419.5,194.5L421.5,196.5L423.0,199.5L422.0,200.0L421.0,198.5L419.5,196.8L418.0,195.5Z" fill="#74a9cf"/>
<path d="M408.0,196.0L409.5,194.5L412.0,194.8L415.0,195.2L418.0,194.8L419.5,197.0L421.0,199.0L422.0,200.5L424.0,201.5L426.0,203.0L425.0,205.0L422.0,205.0L419.0,204.8L416.0,205.5L413.0,205.8L411.0,205.0L409.5,203.5L407.0,202.0L406.0,199.5Z" fill="#045a8d"/>
<path d="M397.2,196.5L399.0,195.0L402.0,194.5L405.0,194.0L408.5,194.2L409.5,194.5L408.0,196.0L406.0,199.5L403.0,200.0L400.0,199.8L398.0,198.8Z" fill="#74a9cf"/>
<path d="M391.5,200.8L395.0,199.8L398.5,199.5L402.0,200.0L403.0,201.5L402.5,202.5L400.0,202.0L397.5,202.2L396.0,203.0L397.5,205.0L400.0,207.0L402.5,209.0L404.5,210.5L402.0,212.0L393.0,205.0L391.0,202.5Z" fill="#74a9cf"/>
<path d="M396.0,203.0L397.5,202.2L400.0,202.0L402.5,202.5L404.0,204.0L404.5,206.0L404.0,208.0L403.5,209.5L402.5,209.0L400.0,207.0L397.5,205.0Z" fill="#045a8d"/>
<path d="M402.5,200.0L406.0,199.5L407.0,202.0L409.5,203.5L410.5,205.0L410.0,207.0L410.5,209.0L409.0,210.5L407.5,210.0L408.5,208.5L407.0,207.5L405.5,208.5L404.5,207.5L404.5,206.0L404.0,204.0L402.5,202.5L403.0,201.5Z" fill="#045a8d"/>
<path d="M405.5,208.5L407.0,207.5L408.5,208.7L407.5,210.0L406.2,210.2Z" fill="#ffffff"/>
<path d="M403.5,209.5L404.0,208.0L404.5,207.5L405.5,208.5L406.2,210.2L405.0,211.0L403.5,211.2L402.5,210.0Z" fill="#045a8d"/>
<path d="M406.2,210.5L407.5,210.0L409.0,210.5L411.2,211.2L411.5,213.0L409.5,213.5L407.5,213.2L406.5,212.0Z" fill="#045a8d"/>
<path d="M403.5,211.2L405.0,211.0L406.2,210.5L406.5,212.0L407.5,213.2L407.0,215.0L406.0,217.0L403.0,217.0L402.5,213.0Z" fill="#2b8cbe"/>
<path d="M411.0,205.0L413.0,205.8L416.0,205.5L419.0,204.8L422.0,205.0L424.0,205.0L423.0,209.0L420.5,210.5L418.0,211.2L415.0,211.8L412.5,212.2L411.5,213.0L411.2,211.2L410.5,209.0L410.0,207.0L410.5,205.0Z" fill="#045a8d"/>
<path d="M407.0,215.0L407.5,213.2L409.5,213.5L411.5,213.0L412.5,212.2L415.0,211.8L418.0,211.2L419.0,212.5L419.5,214.0L417.0,229.0L405.0,229.0L404.0,217.0L406.0,217.0Z" fill="#2b8cbe"/>
<path d="M447.8,207.1L451.9,207.7L455.4,208.9L459.0,210.1L461.4,211.8L459.6,212.4L456.6,212.4L453.1,211.8L450.1,210.1L446.6,208.9Z" fill="#045a8d"/>
<path d="M472.4,210.7L476.5,209.5L478.9,211.9L483.0,209.5L486.0,208.3L488.9,208.9L491.3,211.3L494.9,213.1L498.4,215.4L501.4,218.4L504.3,220.2L506.1,222.0L503.7,223.1L500.8,225.5L498.4,227.6L495.4,225.5L491.3,223.1L486.6,221.4L481.8,221.0L478.9,222.5L477.7,219.6L474.7,219.6L472.4,214.9Z" fill="#74a9cf"/>
<path d="M458.4,217.8L459.6,218.3L462.0,217.8L464.9,218.3L467.9,219.5L469.6,220.7L472.0,222.5L475.0,223.1L477.9,222.5L479.7,221.9L483.3,221.3L488.0,222.5L492.1,224.3L496.3,226.6L495.7,229.6L496.3,233.1L498.6,236.7L498.0,240.8L499.8,242.8L503.4,246.2L504.6,248.5L504.0,255.6L483.3,255.6L469.6,241.4L467.9,238.5L465.5,234.9L463.7,231.4L462.5,227.8L460.8,224.9L459.0,221.9Z" fill="#f1eef6"/>
<path d="M519.1,225.5L522.1,224.3L525.6,223.7L531.5,223.1L529.8,226.7L527.4,228.5L528.0,231.4L525.6,234.7L527.4,237.3L525.6,239.7L523.0,242.7L520.7,245.6L518.8,249.2L519.9,252.7L522.3,255.7L520.3,261.0L503.1,265.7L501.0,254.5L501.4,251.5L503.7,248.0L502.0,243.0L503.1,242.7L507.9,240.9L510.8,238.5L514.4,235.6L516.7,232.6L517.9,229.1Z" fill="#f1eef6"/>
<path d="M437.1,224.3L440.6,224.9L443.0,223.7L446.5,224.3L450.7,223.7L453.0,223.7L451.9,226.7L450.1,230.2L448.9,234.4L451.9,235.6L456.0,238.5L460.7,242.1L464.3,243.3L467.8,243.3L469.6,241.5L470.4,242.8L474.0,245.5L477.5,248.9L481.0,253.0L485.9,253.0L490.0,250.0L494.0,255.0L500.0,259.0L510.0,265.0L515.2,296.5L467.8,308.3L444.2,284.7L432.3,242.1Z" fill="#f1eef6"/>
<path d="M460.5,278.0L462.0,275.0L464.5,274.0L468.0,274.8L471.0,275.0L473.0,272.5L477.0,271.2L481.0,270.5L482.5,273.5L484.5,276.5L480.0,285.0L460.0,289.0L459.0,282.0Z" fill="#bdc9e1"/>
<path d="M453.5,223.1L457.3,222.0L459.1,224.1L461.6,227.6L462.3,230.5L464.4,233.3L467.2,236.8L469.3,240.3L468.6,241.8L466.9,242.5L465.8,243.9L463.0,243.2L460.2,241.1L456.6,238.2L452.4,236.1L448.9,234.7L448.2,232.6L451.7,230.5L452.4,226.9Z" fill="#bdc9e1"/>
<path d="M579.1,246.3L581.5,246.3L582.7,248.7L583.8,251.6L582.7,255.2L585.0,258.1L588.0,260.5L590.9,263.5L588.6,265.8L586.2,268.8L585.0,271.7L584.4,274.7L586.2,277.1L588.0,280.6L589.8,285.4L590.9,290.1L590.4,294.8L588.6,294.8L588.2,286.5L586.8,282.4L585.0,278.8L582.7,277.7L580.3,280.6L569.1,274.7L570.2,265.8L572.0,264.6L573.2,260.5L574.4,257.0L575.6,253.4L576.2,249.9L577.3,248.1Z" fill="#045a8d"/>
<path d="M590.9,263.5L593.3,261.7L596.3,260.5L599.2,259.9L601.0,261.7L603.4,265.8L605.7,269.4L608.1,273.5L609.3,277.1L608.1,280.6L605.7,281.8L604.6,278.8L602.2,278.3L601.0,275.9L598.0,274.1L594.5,272.3L592.1,268.8L590.9,265.2Z" fill="#74a9cf"/>
<path d="M599.2,259.9L602.2,259.3L605.1,261.7L607.5,263.5L615.2,264.1L619.9,281.8L612.8,296.0L603.4,298.4L604.0,293.0L607.5,290.1L609.1,286.5L609.3,283.0L608.1,280.6L609.3,277.1L608.1,273.5L605.7,269.4L603.4,265.8L601.0,261.7Z" fill="#74a9cf"/>
<path d="M597.5,285.4L598.6,283.0L602.2,282.8L605.7,282.0L608.1,281.8L609.1,285.9L607.5,289.5L604.0,292.5L601.0,294.2L597.5,290.1Z" fill="#bdc9e1"/>
<path d="M627.3,214.9L630.2,212.0L634.4,209.6L636.7,208.4L639.7,209.6L639.7,215.5L637.3,217.9L637.9,219.6L635.0,220.2L632.0,220.8L629.1,220.8L625.5,215.5Z" fill="#045a8d"/>
<path d="M635.0,220.5L637.9,219.9L642.1,220.2L645.6,227.3L642.1,232.1L637.3,230.9L633.8,222.6Z" fill="#bdc9e1"/>
<path d="M460.7,201.5L464.0,199.0L469.0,197.9L472.3,199.0L470.6,202.3L468.2,204.8L470.6,208.1L473.1,209.8L474.4,212.2L474.8,214.7L476.4,216.7L477.4,220.5L476.4,223.0L473.1,222.6L469.8,221.0L467.8,217.2L467.3,213.1L465.7,209.8L462.9,207.3L460.7,204.5Z" fill="#ffffff"/>
<path d="M421.7,207.8L423.5,204.2L425.8,200.7L428.2,199.5L430.6,201.2L432.3,203.0L435.3,203.6L438.3,202.8L440.6,202.4L443.0,204.2L446.5,206.0L449.5,208.3L450.7,210.7L449.5,211.9L445.4,211.9L440.6,211.1L437.1,210.4L433.5,210.7L430.0,211.9L426.4,212.5L423.5,211.9L421.9,210.1Z" fill="#ffffff"/>
<path d="M435.3,200.1L437.1,198.5L439.7,198.0L440.9,199.5L439.4,200.9L437.1,201.6Z" fill="#ffffff"/>
<path d="M478.3,203.0L481.8,201.2L485.4,201.8L489.5,204.8L493.7,206.0L498.4,205.4L501.4,207.8L504.3,211.9L507.3,212.5L509.6,210.7L512.0,208.9L515.6,207.8L519.7,207.2L525.6,207.2L530.4,207.8L531.5,206.6" fill="none"/>
<path d="M515.6,207.8L517.3,208.9L514.4,210.7L511.4,211.9L510.2,213.7L512.6,214.9L509.6,216.6L507.9,218.4L509.1,221.4L506.7,222.0" fill="none"/>
<path d="M530.4,207.8L529.2,210.1L526.2,211.9L523.3,213.1L520.9,214.9L517.3,214.3L514.4,214.3L512.6,215.1L510.2,216.6" fill="none"/>
<path d="M520.9,214.9L522.7,216.6" fill="none"/>
<path d="M509.1,221.7L510.8,222.2L513.2,222.5L515.6,219.8L517.3,221.4L520.9,222.0L523.8,221.0" fill="none"/>
<path d="M523.8,221.0L530.9,221.7L531.5,223.1L525.6,223.7L522.1,224.3L519.1,225.5" fill="none"/>
<path d="M478.3,203.0L480.1,207.8L483.0,209.5" fill="none"/>
<path d="M540.7,242.8L541.8,244.5L546.0,246.3L551.3,248.4L556.6,250.1L560.5,250.4L561.0,247.7" fill="none"/>
<path d="M561.7,247.2L563.7,249.9L567.9,249.3L568.5,247.2" fill="none"/>
<path d="M561.0,252.8L563.1,251.6L565.5,252.8L569.1,253.4L569.6,256.4L570.8,259.9L571.4,262.9" fill="none"/>
<path d="M561.0,252.8L562.0,257.5L563.1,261.1L564.3,262.9" fill="none"/>
<path d="M585.0,271.7L586.2,268.8L588.6,265.8L590.9,265.2" fill="none"/>
<path d="M601.0,281.8L598.6,283.0L597.5,285.4L595.7,286.5L593.9,284.8L592.1,286.5L591.5,290.1" fill="none"/>
<path d="M592.4,297.1L589.3,298.2" fill="none"/>
<path d="M360.4,206.7L364.6,207.3L368.1,208.5" fill="none"/>
<path d="M369.3,187.2L370.5,189.0L373.5,190.5L375.5,189.6L375.8,192.0L377.0,194.9L375.8,197.9" fill="none"/>
<path d="M369.3,187.2L372.9,186.6L375.2,187.2L375.5,189.6" fill="none"/>
<path d="M375.8,181.3L376.2,184.3L375.2,186.6L375.2,187.2" fill="none"/>
<path d="M379.4,179.2L382.3,178.5" fill="none"/>
<path d="M387.7,189.6L389.4,192.5L388.3,194.9L384.7,195.5L383.5,197.6" fill="none"/>
<path d="M388.3,194.9L391.8,193.7L395.4,194.1L398.3,194.9L398.9,192.2L395.4,193.7L391.8,193.1L389.2,192.2" fill="none"/>
<path d="M398.9,192.2L400.7,190.5" fill="none"/>
<path d="M390.6,200.0L394.2,199.3L395.4,200.8L393.0,201.7L390.9,201.4" fill="none"/>
<path d="M387.1,199.1L390.6,199.6" fill="none"/>
<path d="M398.3,194.9L399.5,194.3" fill="none"/>
<path d="M384.9,169.6L384.6,165.5L385.4,161.4L387.1,157.2L390.4,153.1L394.5,149.0L397.8,146.5L401.9,145.7L403.6,149.8" fill="none"/>
<path d="M401.9,145.7L406.0,143.2L409.3,144.0L412.6,141.2" fill="none"/>
<path d="M456.6,212.4L457.8,216.6L458.4,217.8" fill="none"/>
<path d="M459.6,212.4L462.0,214.8L463.7,217.8L464.9,218.3" fill="none"/>
<path d="M462.0,214.8L459.6,216.0L458.4,217.8" fill="none"/>
<path d="M441.6,234.4L443.6,235.0L446.5,233.2L447.7,235.6L444.8,237.3L446.5,240.3L443.6,243.3L440.6,243.8L440.4,240.9" fill="none"/>
<path d="M447.7,235.6L451.9,235.6" fill="none"/>
<path d="M464.3,243.3L467.2,245.6L465.5,246.6" fill="none"/>
<path d="M440.6,230.8L441.8,231.2L441.6,234.4L439.7,235.6" fill="none"/>
<path d="M439.7,235.6L440.6,237.3L439.7,239.7" fill="none"/>
<path d="M481.0,270.5L484.5,268.5L487.5,267.0L488.5,264.0L488.0,261.5L487.5,261.2" fill="none"/>
<path d="M480.0,257.5L482.0,259.5L486.0,260.5L487.5,261.2L488.5,258.5L489.5,255.0L490.0,252.5" fill="none"/>
</g>
<path d="M353.9,225.7L350.4,226.3L348.6,224.5L348.0,221.5L346.8,223.3L343.9,222.7L342.7,218.6L343.5,214.4L344.5,210.3L343.9,206.7L348.0,205.6L353.9,206.7L360.4,206.7L359.3,204.4L360.4,200.2L358.7,197.3L355.7,195.5L353.9,193.7L358.1,192.5L359.9,190.2L362.8,189.6L365.8,188.4L368.7,187.2L371.7,184.3L373.5,181.9L375.8,181.3L377.6,181.3L379.4,179.5L378.8,173.0L381.7,171.8L382.6,174.8L382.1,177.8L382.9,178.9L387.1,179.5L390.0,180.7L394.2,179.5L399.5,178.3L402.5,178.0L403.0,174.8L403.0,171.8L405.4,171.2L407.4,171.6L407.4,170.1L407.2,167.1L410.7,166.5L414.9,167.1L417.8,166.2L416.7,164.5L410.7,164.7L406.0,164.1L402.5,162.4L401.3,160.0L401.9,156.4L404.7,153.1L403.6,149.8L401.4,152.8L397.5,157.2L395.8,162.2L397.3,166.3L397.1,164.7L395.4,168.3L393.0,173.0L390.0,176.0L387.7,174.2L386.5,170.7L385.9,165.9L384.7,163.6L382.9,166.5L380.6,168.9L377.0,169.5L374.1,167.7L372.6,164.7L373.5,161.2L372.4,160.5L375.5,158.1L381.3,153.9L386.2,149.0L392.8,144.0L399.4,141.2L406.0,140.2L412.6,141.2L411.2,142.9L417.1,144.8L424.1,145.8L427.6,147.6L424.1,150.5L421.8,153.5L427.6,154.7L432.4,151.2L438.2,149.5L437.1,146.5L441.8,147.6L447.6,145.3L454.7,144.8L462.9,142.9L470.0,141.8L473.5,137.1L478.2,136.4L479.4,141.8L482.9,145.3L485.3,144.1L482.9,138.2L486.5,137.1L490.0,142.9L488.8,148.8L486.5,142.9L491.2,138.2L497.1,133.5L504.1,130.0L511.2,129.3L518.2,126.9L525.3,128.8L532.4,129.3L538.2,132.4L545.3,133.5L553.5,134.7L560.6,133.5L567.6,135.9L574.7,138.2L579.4,139.4L584.1,137.1L593.5,136.4L602.9,137.1L600.0,136.9L604.7,137.5L609.5,139.3L615.4,140.4L621.3,140.1L625.4,141.3L628.4,143.4L634.3,143.2L640.2,142.8L645.0,142.5L648.5,144.6L646.2,142.8L650.9,142.5L656.8,143.2L661.5,143.6L665.1,144.6L668.6,146.7L672.2,149.3L675.7,151.7L678.7,153.5L675.7,154.6L679.3,156.4L685.8,159.4L681.7,160.0L678.7,161.7L676.9,164.7L674.6,163.5L671.0,164.7L667.5,165.9L665.1,165.3L666.3,168.8L669.8,171.8L672.8,174.2L674.0,177.7L675.1,181.3L674.7,184.8L674.2,187.2L670.0,182.9L667.5,179.5L663.9,176.5L660.4,174.2L658.0,170.6L660.4,169.4L660.9,165.9L660.9,162.3L658.6,160.0L656.8,163.5L653.8,161.7L650.9,161.7L647.9,162.9L649.1,165.9L646.2,167.7L641.4,167.1L637.9,167.7L633.1,167.1L627.8,168.3L626.0,173.0L624.3,177.1L628.4,178.9L632.0,179.9L636.7,180.7L639.6,183.0L641.8,185.3L645.3,191.2L646.5,198.2L646.2,200.7L645.0,204.3L642.1,208.4L638.8,209.8L637.3,211.4L636.7,212.5L635.6,215.5L637.3,217.9L637.9,219.9L640.9,221.4L643.3,225.0L643.8,227.9L642.1,229.7L639.7,230.3L637.9,227.9L636.7,225.0L635.6,222.6L635.0,220.5L632.0,220.8L630.8,219.1L631.4,216.7L629.6,216.1L627.9,215.3L625.5,216.4L623.4,217.6L622.2,214.9L620.5,213.5L618.4,215.3L616.6,216.9L614.6,218.6L616.3,220.8L619.3,222.8L621.7,221.7L624.6,222.4L627.4,223.3L625.7,225.7L622.9,227.1L624.3,229.7L626.9,233.0L629.8,236.3L631.7,239.4L633.3,243.4L633.9,247.5L633.3,251.0L632.9,250.6L630.6,255.3L627.1,258.8L622.4,261.9L617.6,264.2L612.9,265.9L609.4,264.7L607.1,267.1L604.7,264.7L607.1,267.5L604.7,270.6L607.1,274.1L610.6,278.8L612.9,284.7L612.5,290.6L608.2,294.1L604.7,296.5L603.5,292.9L601.2,290.6L600.0,289.4L597.6,285.9L595.3,284.7L592.9,285.4L591.8,287.1L590.6,290.6L590.7,291.2L591.6,295.9L594.7,300.6L598.2,305.3L601.1,310.0L602.9,314.7L601.1,315.9L597.8,312.4L594.7,307.6L591.6,302.9L589.3,298.2L588.4,293.5L587.5,289.4L585.9,283.5L585.0,278.8L584.4,274.9L582.7,277.7L580.3,278.8L577.9,277.1L576.7,273.5L575.0,270.6L573.2,267.6L572.0,264.6L570.8,262.9L569.6,261.7L567.9,260.5L567.1,262.4L563.5,261.2L560.0,263.5L556.5,268.2L552.9,272.9L549.4,277.6L547.1,282.4L545.9,289.4L544.7,295.3L543.5,298.8L541.2,296.5L538.8,290.6L535.3,283.5L531.8,275.3L528.7,268.2L527.1,263.5L523.5,264.7L519.3,262.4L517.6,258.8L520.0,256.5L518.0,259.8L515.0,257.0L512.0,254.0L508.0,253.5L504.5,254.5L501.0,254.2L498.0,253.8L494.0,253.0L491.0,252.0L488.5,250.0L485.5,251.0L482.0,250.0L479.0,247.5L476.0,245.0L474.0,242.5L471.5,242.0L470.0,242.5L470.0,243.5L472.0,246.0L474.0,249.0L476.0,252.0L477.5,253.5L478.0,252.5L479.2,253.5L479.0,256.0L480.0,257.5L482.0,256.5L484.5,255.5L487.0,253.5L489.0,251.5L490.0,250.8L490.5,253.5L492.5,255.5L495.0,257.5L498.0,261.2L497.0,264.0L495.0,266.0L494.0,268.5L492.0,270.5L490.0,272.5L487.0,274.0L484.0,276.0L480.0,278.5L476.0,280.5L472.0,282.5L468.0,284.5L464.0,286.0L461.8,286.5L461.0,282.0L460.5,278.0L459.5,275.5L457.5,272.0L455.0,268.5L452.5,265.0L450.5,261.5L448.5,257.5L446.0,253.5L443.0,249.0L440.5,245.5L439.3,246.3L439.8,243.2L438.9,238.4L439.3,236.1L440.1,233.3L440.8,230.5L441.3,227.6L441.5,225.9L440.6,224.9L437.7,224.3L434.7,225.5L431.7,224.9L428.2,224.3L425.2,223.1L422.9,221.4L420.5,218.4L419.9,215.4L421.1,213.1L419.3,213.1L418.7,211.9L416.0,213.4L414.0,214.3L412.5,215.1L413.4,217.0L414.3,219.6L414.8,221.7L413.4,222.5L412.8,224.6L411.0,224.3L409.9,222.2L408.4,219.8L406.9,217.5L405.4,215.1L404.5,213.1L403.9,210.7L404.2,208.9L404.0,210.5L403.0,209.5L400.5,209.0L397.5,207.0L395.0,205.0L394.0,203.0L392.0,202.5L391.5,200.8L390.0,201.5L389.0,203.0L390.0,205.0L392.0,207.0L394.5,209.5L397.0,212.0L400.0,214.0L402.0,215.0L401.5,216.5L399.5,216.0L398.5,217.5L399.0,219.5L397.5,220.5L396.5,218.5L395.5,216.5L393.5,214.5L391.0,212.5L389.0,210.5L387.0,208.0L385.5,205.5L383.5,204.0L381.0,204.5L379.0,204.0L377.5,203.0L378.2,205.0L375.8,206.7L371.7,207.9L368.1,208.5L367.0,210.9L364.0,213.3L362.2,216.2L361.6,219.2L359.9,222.1L356.9,224.5Z" fill="none"/>
<path d="M225.1,206.1L226.3,203.3L230.9,201.1L234.2,199.2L239.2,198.0L240.5,200.5L234.5,202.5L229.6,204.1Z" fill="#f1eef6"/>
<path d="M242.5,195.0L244.9,191.7L249.1,187.6L251.5,188.4L250.7,191.7L254.0,192.5L255.7,195.0L254.8,197.5L251.5,196.7L249.1,197.5L245.8,196.2Z" fill="#f1eef6"/>
<path d="M216.4,139.5L218.5,136.0L224.2,134.6L231.2,135.3L236.9,136.7L241.1,138.8L246.8,141.6L251.0,145.2L256.7,149.4L252.4,152.2L248.2,150.1L245.4,152.9L248.2,155.8L243.9,158.6L239.7,157.2L235.5,155.8L231.2,154.4L225.6,155.1L224.9,152.9L229.8,151.5L234.1,149.4L236.9,146.6L234.8,143.8L231.9,145.6L228.4,145.2L225.6,141.9L221.4,142.4L219.2,144.2L217.1,142.4Z" fill="#f1eef6"/>
<path d="M224.9,122.2L231.2,119.8L239.7,118.4L251.0,117.4L262.3,116.9L275.0,117.6L267.9,120.5L259.5,122.6L252.4,124.0L245.4,127.5L239.7,128.9L234.1,128.2L231.2,126.1L235.5,124.7L234.1,122.6L228.4,124.0Z" fill="#f1eef6"/>
<path d="M159.2,138.1L164.9,134.3L170.5,133.2L177.6,133.9L179.7,135.3L176.2,136.7L171.9,137.4L169.1,139.5L163.5,140.2Z" fill="#f1eef6"/>
<path d="M168.4,142.4L169.1,139.5L173.4,138.1L179.0,137.4L183.2,136.7L188.2,136.0L192.4,134.6L195.9,135.3L193.8,138.8L195.9,142.4L193.1,145.2L188.2,145.9L183.2,145.2L177.6,146.6L171.9,145.9L168.4,145.9Z" fill="#f1eef6"/>
<path d="M175.5,129.6L181.1,127.2L186.8,126.1L189.6,126.8L185.4,128.7L190.3,128.9L188.2,131.1L183.2,131.8L179.0,131.1Z" fill="#f1eef6"/>
<path d="M195.2,125.4L201.6,124.1L201.9,125.1L195.9,126.4Z" fill="#f1eef6"/>
<path d="M198.8,138.1L201.6,135.3L205.8,133.9L209.4,134.6L207.9,137.4L204.4,139.5L200.2,140.2Z" fill="#f1eef6"/>
<path d="M197.4,142.4L203.0,143.3L201.6,146.6L198.1,145.9Z" fill="#f1eef6"/>
<path d="M205.1,130.1L209.4,128.7L212.9,129.6L211.5,131.5L206.5,131.8Z" fill="#f1eef6"/>
<path d="M217.1,131.1L221.4,128.9L227.0,129.6L234.1,128.7L239.7,129.6L237.6,131.8L231.2,132.5L225.6,133.2L219.9,133.2Z" fill="#f1eef6"/>
<path d="M208.6,124.0L212.9,123.3L215.7,125.4L212.9,126.1L209.4,125.4Z" fill="#f1eef6"/>
<path d="M217.8,124.1L221.4,124.4L221.1,125.4L218.0,125.1Z" fill="#f1eef6"/>
<path d="M207.9,155.8L212.9,151.5L217.1,154.4L219.9,156.9L215.7,158.6L211.5,159.3Z" fill="#f1eef6"/>
<path d="M107.1,188.8L110.6,189.5L114.1,192.8L114.6,195.2L111.3,193.5L108.2,191.2Z" fill="#f1eef6"/>
<path d="M103.5,179.4L105.9,180.1L106.6,184.1L104.7,183.4Z" fill="#f1eef6"/>
<path d="M255.3,126.0L261.2,123.6L269.4,121.8L278.8,119.9L290.6,118.2L302.4,117.1L316.5,116.6L330.6,117.1L335.3,119.9L344.7,119.4L337.2,122.2L334.1,125.3L332.9,130.0L330.6,133.5L327.1,137.1L322.4,138.2L321.2,141.8L315.3,145.3L308.2,147.2L302.4,148.8L296.5,151.9L290.6,155.9L285.9,160.6L282.4,165.3L280.0,164.6L275.3,160.6L272.2,155.9L270.6,150.0L271.3,145.3L274.1,141.8L272.9,138.2L270.6,133.5L268.9,130.0L262.4,128.8L256.5,128.4Z" fill="#bdc9e1"/>
<path d="M321.2,152.4L325.9,150.5L332.9,150.0L338.1,151.9L337.2,154.7L331.8,156.6L325.9,156.6L322.4,155.2Z" fill="#f1eef6"/>
<path d="M47.8,153.1L52.9,148.8L60.0,144.8L63.5,147.6L67.8,149.5L67.1,151.9L61.2,153.5L56.5,155.4L52.9,153.5L49.4,153.5Z" fill="#2b8cbe"/>
<path d="M67.8,139.6L72.2,138.9L72.5,140.1L68.5,140.8Z" fill="#2b8cbe"/>
<path d="M70.6,152.4L78.8,151.9L77.6,155.2L71.3,154.7Z" fill="#bdc9e1"/>
<path d="M171.3,261.9L174.1,259.5L180.0,259.5L185.9,261.9L190.6,264.7L195.3,266.6L192.9,267.5L187.1,265.9L182.4,263.5L176.5,262.4Z" fill="#bdc9e1"/>
<path d="M194.1,269.4L197.6,268.2L201.2,268.9L200.5,272.2L197.6,272.5L194.8,272.2Z" fill="#74a9cf"/>
<path d="M201.2,268.9L204.7,268.9L208.2,270.6L205.9,272.5L200.5,272.2Z" fill="#bdc9e1"/>
<path d="M185.4,271.8L188.7,271.3L190.1,272.7L187.1,273.4Z" fill="#bdc9e1"/>
<path d="M187.1,249.4L190.1,249.6L190.1,251.1L187.3,250.8Z" fill="#bdc9e1"/>
<path d="M187.1,254.1L188.7,254.4L188.7,257.6L187.3,257.2Z" fill="#bdc9e1"/>
<path d="M210.6,271.3L214.1,271.3L214.1,272.7L210.8,272.7Z" fill="#f1eef6"/>
<path d="M226.5,460.0L230.0,463.1L237.1,461.9L233.5,464.0L227.6,463.1Z" fill="#bdc9e1"/>
<path d="M474.7,351.8L477.1,354.1L477.8,360.0L475.9,367.1L473.5,374.1L470.7,381.2L467.6,385.9L464.1,387.1L461.3,383.5L460.6,377.6L462.2,370.6L463.6,364.7L467.6,361.2L471.2,357.6Z" fill="#bdc9e1"/>
<path d="M343.3,184.3L344.5,180.1L347.4,177.8L351.0,177.5L351.6,180.1L350.4,183.1L347.4,184.9L344.5,185.4Z" fill="#f1eef6"/>
<path d="M347.8,177.8L351.0,177.3L351.6,179.5L349.0,179.6Z" fill="#bdc9e1"/>
<path d="M351.6,171.2L353.3,168.9L356.9,168.3L357.5,170.7L356.3,173.0L358.7,174.8L360.4,177.8L362.8,180.7L365.2,183.1L366.4,184.9L364.0,186.6L360.4,187.2L356.9,188.2L353.9,189.0L351.6,189.3L353.3,187.8L355.7,186.6L352.8,185.4L353.3,183.1L355.1,181.3L352.8,178.9L353.3,175.4L351.6,173.6Z" fill="#bdc9e1"/>
<path d="M390.0,221.5L393.0,220.6L396.5,221.3L395.9,223.9L393.0,223.7L390.6,222.7Z" fill="#74a9cf"/>
<path d="M380.6,213.3L382.9,212.7L383.5,215.6L382.9,218.6L380.9,218.2Z" fill="#74a9cf"/>
<path d="M381.2,208.5L382.6,207.9L382.9,210.9L381.7,212.1Z" fill="#bdc9e1"/>
<path d="M414.0,227.3L416.4,227.3L419.3,227.9L419.6,228.8L416.4,228.6L414.0,228.1Z" fill="#2b8cbe"/>
<path d="M432.9,228.5L435.3,227.3L437.7,226.9L435.9,228.8L433.5,229.3Z" fill="#bdc9e1"/>
<path d="M384.1,176.0L386.5,175.6L386.8,177.8L384.7,178.0Z" fill="#bdc9e1"/>
<path d="M446.5,138.2L450.0,132.4L457.1,128.8L466.5,127.6L465.3,130.0L458.2,131.6L453.5,134.7L454.2,139.4L451.2,140.6Z" fill="#2b8cbe"/>
<path d="M426.9,120.4L435.4,120.8L434.9,121.8L427.4,121.5Z" fill="#2b8cbe"/>
<path d="M493.5,120.6L500.6,119.9L508.8,122.9L515.9,124.6L513.5,126.0L505.3,124.1L497.1,122.9Z" fill="#2b8cbe"/>
<path d="M573.5,130.0L580.6,129.3L588.8,131.2L584.1,132.6L575.9,131.6Z" fill="#2b8cbe"/>
<path d="M588.8,133.1L595.9,131.6L597.1,133.5L591.2,134.5Z" fill="#2b8cbe"/>
<path d="M640.3,180.6L642.7,183.6L645.6,186.5L649.2,189.5L652.7,191.8L654.5,192.4L651.5,193.0L653.3,196.0L656.3,198.9L657.5,199.5L654.5,198.0L651.5,195.1L648.6,191.6L645.0,188.0L642.1,184.5L640.3,181.8Z" fill="#2b8cbe"/>
<path d="M655.0,139.3L658.0,140.1L657.8,140.8L655.1,140.0Z" fill="#2b8cbe"/>
<path d="M656.3,201.9L658.6,203.7L662.2,205.4L665.7,204.9L666.9,206.6L664.0,208.4L661.0,209.6L659.8,211.4L657.5,209.6L656.5,206.6Z" fill="#74a9cf"/>
<path d="M659.8,212.0L662.2,213.1L664.0,215.5L665.7,219.1L666.9,223.2L667.9,226.7L666.3,229.1L663.4,230.3L661.0,231.5L658.6,230.9L656.3,229.7L653.9,230.3L650.9,230.9L648.6,232.1L646.8,233.8L648.6,235.6L650.4,234.2L652.7,233.0L655.7,232.1L658.0,232.1L660.4,230.3L661.6,227.3L662.0,223.8L661.0,220.2L659.8,216.7L658.9,213.7Z" fill="#74a9cf"/>
<path d="M646.8,233.8L649.2,235.0L651.5,236.2L652.1,238.6L650.4,238.2L648.6,236.6Z" fill="#74a9cf"/>
<path d="M653.3,231.7L656.9,230.9L657.5,232.3L654.5,233.3Z" fill="#74a9cf"/>
<path d="M609.4,268.2L612.9,267.1L614.8,269.9L612.5,272.2L609.6,271.3Z" fill="#74a9cf"/>
<path d="M634.6,254.8L636.5,254.1L637.2,258.8L635.5,262.8L633.6,260.0Z" fill="#bdc9e1"/>
<path d="M546.6,295.3L549.4,294.8L551.3,298.8L549.9,303.5L547.1,302.4Z" fill="#74a9cf"/>
<path d="M637.6,272.9L640.7,271.8L642.4,276.5L641.2,281.2L643.5,284.7L641.2,285.9L638.8,282.4L637.6,277.6Z" fill="#bdc9e1"/>
<path d="M642.4,287.1L645.9,288.2L648.2,292.5L645.4,292.9L643.1,290.6Z" fill="#bdc9e1"/>
<path d="M647.8,290.6L650.6,291.8L651.8,295.3L649.4,294.8Z" fill="#bdc9e1"/>
<path d="M648.2,296.5L652.9,295.3L654.1,301.2L650.6,303.5L647.1,301.2Z" fill="#bdc9e1"/>
<path d="M632.9,297.6L635.3,294.1L637.6,290.6L638.4,291.8L635.3,296.5L633.6,298.8Z" fill="#bdc9e1"/>
<path d="M582.2,306.5L587.6,306.0L593.5,311.2L599.4,318.2L604.1,324.1L607.2,330.0L606.5,335.9L602.9,333.5L598.2,327.6L593.5,320.6L588.8,314.7L584.6,310.0Z" fill="#74a9cf"/>
<path d="M605.8,336.6L611.2,335.9L618.2,337.8L625.3,339.9L628.4,341.8L622.9,342.2L615.9,340.6L608.8,339.4Z" fill="#74a9cf"/>
<path d="M631.6,342.2L637.1,342.7L637.1,344.1L631.9,343.6Z" fill="#74a9cf"/>
<path d="M638.2,344.1L640.6,344.1L641.1,346.0L638.7,346.0Z" fill="#74a9cf"/>
<path d="M640.6,341.3L645.3,341.3L645.3,342.7L640.8,342.7Z" fill="#74a9cf"/>
<path d="M646.5,345.3L651.2,342.9L655.2,341.8L653.5,344.1L648.8,346.9Z" fill="#74a9cf"/>
<path d="M614.7,315.9L618.2,317.1L622.9,315.9L627.6,312.4L631.6,308.8L634.0,310.0L635.9,313.5L634.0,318.2L634.7,322.9L631.6,327.6L628.8,330.5L625.3,328.8L620.6,328.8L617.1,326.5L614.7,321.8Z" fill="#74a9cf"/>
<path d="M614.7,315.9L618.2,312.4L622.9,310.0L627.6,306.5L631.6,302.9L635.9,304.6L637.8,306.9L634.0,310.0L631.6,308.8L627.6,312.4L622.9,315.9L618.2,317.1Z" fill="#bdc9e1"/>
<path d="M638.2,325.3L640.1,320.1L642.9,317.8L648.8,316.4L651.9,317.1L648.8,319.4L644.1,320.6L642.9,324.1L646.5,326.5L645.3,330.0L647.2,333.5L644.8,334.2L642.5,330.0L640.6,333.5L638.7,334.7L637.8,330.0Z" fill="#74a9cf"/>
<path d="M657.1,314.7L658.9,315.9L659.4,321.8L657.5,320.6Z" fill="#74a9cf"/>
<path d="M653.5,327.6L662.9,327.6L662.9,329.5L653.8,329.3Z" fill="#74a9cf"/>
<path d="M665.3,321.8L670.0,320.6L673.5,322.9L672.4,326.5L675.9,327.6L679.4,324.8L684.1,325.3L687.6,327.2L687.6,343.6L684.1,342.2L681.8,338.2L678.2,335.9L674.7,332.4L670.0,330.0L667.6,326.5Z" fill="#74a9cf"/>
<path d="M687.6,327.2L692.4,329.5L697.1,332.4L700.6,335.9L702.9,339.4L701.8,341.8L705.3,345.3L708.8,347.2L704.1,346.5L699.4,343.6L694.7,341.8L691.2,342.9L687.6,343.6Z" fill="#bdc9e1"/>
<path d="M704.6,334.7L708.8,334.2L713.5,331.2L714.0,327.6L715.9,330.0L714.7,333.5L710.7,335.9L706.0,336.1Z" fill="#bdc9e1"/>
<path d="M719.4,334.7L722.9,336.6L722.5,337.8L719.2,335.9Z" fill="#bdc9e1"/>
<path d="M725.3,338.9L730.0,341.8L729.3,342.9L724.8,340.1Z" fill="#bdc9e1"/>
<path d="M731.2,343.6L734.7,346.5L734.0,347.6L730.7,344.8Z" fill="#bdc9e1"/>
<path d="M743.6,359.4L745.3,359.9L745.3,362.9L743.9,362.5Z" fill="#bdc9e1"/>
<path d="M766.5,365.3L769.5,364.8L769.5,367.2L766.7,367.4Z" fill="#bdc9e1"/>
<path d="M734.7,372.8L739.4,377.1L738.5,378.5L734.0,374.0Z" fill="#ffffff"/>
<path d="M614.7,407.6L617.1,400.6L616.6,393.5L618.2,385.3L620.6,378.2L627.6,373.5L635.9,371.2L642.9,365.3L651.2,360.6L655.9,358.2L660.6,353.5L665.3,350.0L671.2,351.6L676.4,352.4L675.4,358.2L679.4,361.8L684.1,365.3L686.5,360.6L687.6,353.5L689.5,348.4L691.9,352.4L693.5,358.2L697.1,365.3L699.4,372.4L702.9,379.4L706.0,386.5L705.3,393.5L702.9,400.6L699.4,407.6L694.7,413.5L690.0,417.1L684.1,418.9L678.2,420.6L673.5,421.3L668.8,419.4L665.3,417.1L664.1,411.2L661.8,407.6L660.6,411.2L658.2,408.8L655.9,405.3L650.0,402.5L642.9,402.9L635.9,405.3L628.8,407.6L622.9,410.5L617.1,411.2Z" fill="#f1eef6"/>
<path d="M669.0,427.1L673.1,426.2L676.4,427.1L674.8,430.4L671.5,433.2L667.8,433.7L667.8,430.4Z" fill="#f1eef6"/>
<path d="M739.2,410.5L740.8,413.0L741.6,417.1L746.6,418.3L743.3,421.3L740.0,423.3L736.7,425.9L732.5,428.7L731.7,427.1L734.2,423.8L736.7,420.4L738.3,417.1L738.8,413.8Z" fill="#bdc9e1"/>
<path d="M727.6,426.2L730.1,427.1L729.2,429.5L725.1,432.0L721.0,434.5L716.0,437.8L711.1,440.8L707.0,441.4L705.3,439.8L708.6,437.5L713.6,435.3L718.5,432.5L723.5,429.2Z" fill="#bdc9e1"/>
<path d="M378.5,122.5L390.0,120.0L401.0,122.0L397.5,126.0L385.0,126.0Z" fill="#bdc9e1"/>
<path d="M198.1,291.1L200.0,290.1L200.9,292.9L200.0,296.2L198.4,295.3Z" fill="#ffffff"/>
<path d="M9.2,267.5L11.2,267.2L11.8,269.0L10.4,270.5L9.2,269.6Z" fill="#bdc9e1"/>
<path d="M5.3,263.7L7.3,264.0L9.5,265.1L9.2,265.7L7.1,264.9L5.2,264.3Z" fill="#bdc9e1"/>
<path d="M2.1,261.9L3.3,262.0L3.3,262.6L2.1,262.5Z" fill="#bdc9e1"/>
<path d="M492.6,372.5L493.8,372.5L493.8,373.6L492.6,373.6Z" fill="#bdc9e1"/>
<path d="M462.2,350.1L464.1,350.6L464.6,352.0L462.7,351.5Z" fill="#f1eef6"/>
<path d="M490.5,331.5L491.2,331.5L491.2,332.2L490.5,332.2Z" fill="#f1eef6"/>
<path d="M305.5,276.5L307.5,276.5L307.5,278.5L305.5,278.5Z" fill="#f1eef6"/>
<path d="M502.0,447.0L505.0,447.0L505.0,449.0L502.0,449.0Z" fill="#ffffff"/>
<path d="M711.4,300.8L712.1,300.8L712.1,301.5L711.4,301.5Z" fill="#bdc9e1"/>
<path d="M726.7,302.0L727.4,302.0L727.4,302.7L726.7,302.7Z" fill="#bdc9e1"/>
<path d="M757.3,300.8L758.0,300.8L758.0,301.5L757.3,301.5Z" fill="#bdc9e1"/>
<path d="M671.4,300.8L672.1,300.8L672.1,301.5L671.4,301.5Z" fill="#bdc9e1"/>
<path d="M749.1,320.8L749.8,320.8L749.8,321.5L749.1,321.5Z" fill="#bdc9e1"/>
</g>
<g id="legend">
<rect x="245" y="537" width="47.5" height="11" fill="url(#hatch)" stroke="#c4c4c4" stroke-width="0.7" style="stroke:#c4c4c4"/>
<line x1="268.7" y1="533.5" x2="268.7" y2="537" stroke="#a3a3a3" stroke-width="0.7"/>
<rect x="312.2" y="537" width="58.5" height="11" fill="#f1eef6"/>
<rect x="370.6" y="537" width="58.6" height="11" fill="#bdc9e1"/>
<rect x="429.2" y="537" width="58.5" height="11" fill="#74a9cf"/>
<rect x="487.7" y="537" width="58.4" height="11" fill="#2b8cbe"/>
<polygon points="546.1,537 600,537 605.3,542.5 600,548 546.1,548" fill="#045a8d"/>
<polygon points="312.2,537 600,537 605.3,542.5 600,548 312.2,548" fill="none" stroke="#c4c4c4" stroke-width="0.6"/>
<g stroke="#a3a3a3" stroke-width="0.7">
<line x1="312.2" y1="533.5" x2="312.2" y2="548"/>
<line x1="370.6" y1="533.5" x2="370.6" y2="548"/>
<line x1="429.2" y1="533.5" x2="429.2" y2="548"/>
<line x1="487.7" y1="533.5" x2="487.7" y2="548"/>
<line x1="546.1" y1="533.5" x2="546.1" y2="548"/>
</g>
</g>
</svg>
<div class="lg" style="left:245px;top:519px;">No data</div>
<div class="lg" style="left:308px;top:519px;">0</div>
<div class="lg" style="left:363px;top:519px;">50</div>
<div class="lg" style="left:418px;top:519px;">100</div>
<div class="lg" style="left:476px;top:519px;">150</div>
<div class="lg" style="left:535px;top:519px;">200</div>
<div id="src"><b>Data source:</b> IHME, Global Burden of Disease (2025)</div>
<div id="url">OurWorldinData.org/causes-of-death | CC BY</div>
</body>
</html>
